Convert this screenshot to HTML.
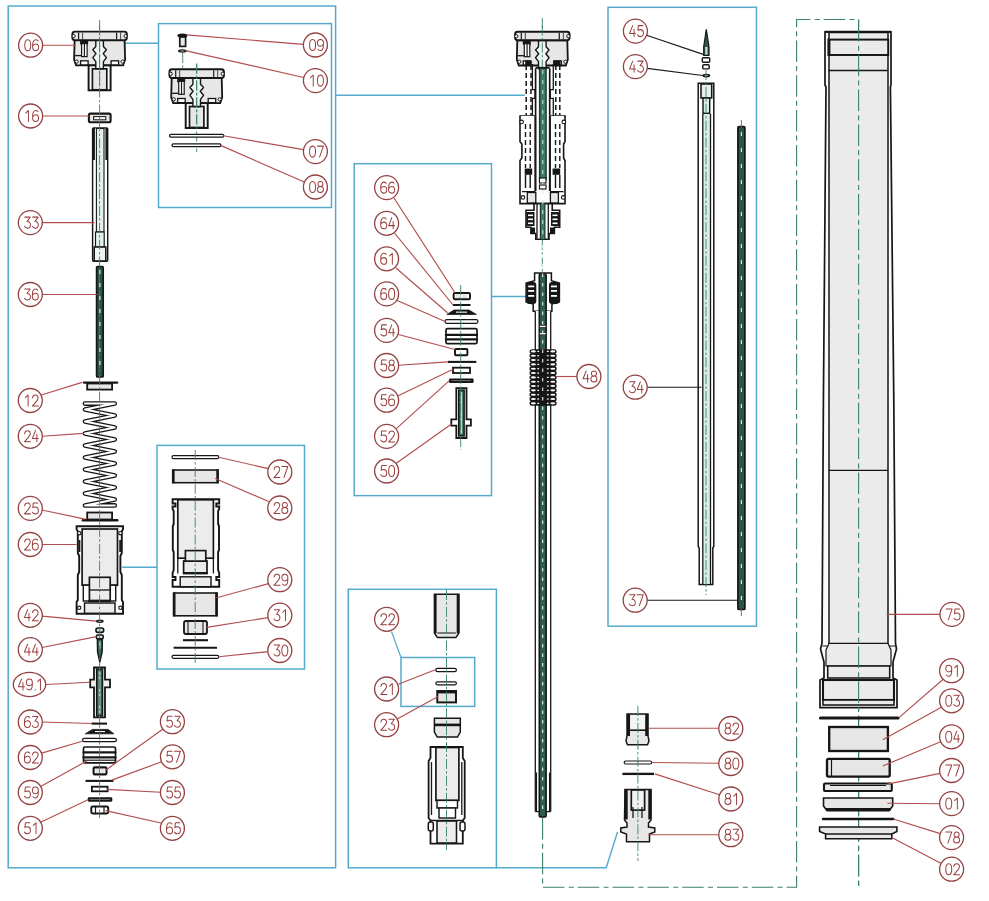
<!DOCTYPE html>
<html><head><meta charset="utf-8"><style>
html,body{margin:0;padding:0;background:#fff;width:989px;height:901px;overflow:hidden}
svg{display:block}
text{font-family:"Liberation Sans",sans-serif}
</style></head><body>
<svg width="989" height="901" viewBox="0 0 989 901">
<rect width="989" height="901" fill="#fff"/>
<rect x="8.2" y="6.0" width="327.4" height="861.8" stroke="#55aacb" stroke-width="1.5" fill="none"/>
<rect x="158.5" y="23.6" width="173.0" height="183.9" stroke="#55aacb" stroke-width="1.5" fill="none"/>
<rect x="157.0" y="445.4" width="147.5" height="223.6" stroke="#55aacb" stroke-width="1.5" fill="none"/>
<rect x="354.2" y="163.7" width="137.3" height="331.9" stroke="#55aacb" stroke-width="1.5" fill="none"/>
<rect x="348.3" y="589.3" width="148.1" height="278.5" stroke="#55aacb" stroke-width="1.5" fill="none"/>
<rect x="401.0" y="657.5" width="73.7" height="48.9" stroke="#55aacb" stroke-width="1.5" fill="none"/>
<rect x="608.0" y="7.3" width="148.5" height="618.9" stroke="#55aacb" stroke-width="1.5" fill="none"/>
<line x1="118" y1="43.3" x2="158.5" y2="43.3" stroke="#55aacb" stroke-width="1.4" />
<line x1="335.6" y1="95.3" x2="525" y2="95.3" stroke="#55aacb" stroke-width="1.4" />
<line x1="122" y1="567.2" x2="157" y2="567.2" stroke="#55aacb" stroke-width="1.4" />
<line x1="491.5" y1="296.5" x2="528.5" y2="296.5" stroke="#55aacb" stroke-width="1.4" />
<line x1="391.5" y1="631.5" x2="401" y2="657.5" stroke="#55aacb" stroke-width="1.2" />
<path d="M496.4,867.8 L606.2,867.8 L617.5,832" stroke="#55aacb" stroke-width="1.4" fill="none"/>
<path d="M542.6,818 L542.6,887.2 L796.6,887.2 L796.6,19.5 L858.6,19.5 L858.6,887.5" stroke="#3a8165" stroke-width="1.1" fill="none" stroke-dasharray="21.5,4.3,5,4"/>
<path d="M74.6,40.2 L124.6,40.2 L125.1,59.6 L123.1,65.4 L76.1,65.4 L74.1,59.6 Z" stroke="#161616" stroke-width="1.82" fill="#e7e7e7"/>
<rect x="72.39999999999999" y="31.6" width="54.4" height="8.6" rx="2.5" stroke="#161616" stroke-width="1.95" fill="#e7e7e7"/>
<line x1="78.6" y1="32.6" x2="78.6" y2="39.6" stroke="#161616" stroke-width="1.17" />
<line x1="82.6" y1="32.6" x2="82.6" y2="39.6" stroke="#161616" stroke-width="0.78" />
<line x1="116.6" y1="32.6" x2="116.6" y2="39.6" stroke="#161616" stroke-width="1.17" />
<line x1="120.6" y1="32.6" x2="120.6" y2="39.6" stroke="#161616" stroke-width="0.78" />
<circle cx="73.6" cy="36.1" r="1.6" fill="#fff" stroke="#161616" stroke-width="1"/>
<circle cx="125.6" cy="36.1" r="1.6" fill="#fff" stroke="#161616" stroke-width="1"/>
<circle cx="76.6" cy="61.6" r="1.6" fill="#fff" stroke="#161616" stroke-width="1"/>
<circle cx="122.6" cy="61.6" r="1.6" fill="#fff" stroke="#161616" stroke-width="1"/>
<rect x="80.6" y="60.8" width="7.5" height="4.1" rx="0" stroke="#161616" stroke-width="1.3" fill="#fff"/>
<rect x="111.1" y="60.8" width="7.5" height="4.1" rx="0" stroke="#161616" stroke-width="1.3" fill="#fff"/>
<rect x="80.1" y="40.6" width="8" height="4" fill="#161616"/>
<rect x="81.6" y="43.6" width="5.5" height="13" fill="#fff" stroke="#161616" stroke-width="1.2"/>
<line x1="84.39999999999999" y1="43.6" x2="84.39999999999999" y2="56.6" stroke="#161616" stroke-width="1.17" />
<line x1="75.1" y1="55.6" x2="81.6" y2="55.6" stroke="#161616" stroke-width="1.3" />
<rect x="88.6" y="65.4" width="22.0" height="24.9" rx="0" stroke="#161616" stroke-width="1.95" fill="#fff"/>
<rect x="92.39999999999999" y="68.80000000000001" width="14.4" height="21.0" rx="0" stroke="#161616" stroke-width="1.69" fill="#e7e7e7"/>
<path d="M95.8,40.6 L95.8,46.6 L92.8,49.8 L96.0,53.6 L92.8,57.6 L95.8,61.6 L95.8,68.8 L103.4,68.8 L103.4,61.6 L106.4,57.6 L103.2,53.6 L106.4,49.8 L103.4,46.6 L103.4,40.6 Z" stroke="#161616" stroke-width="1.4" fill="#eef6f2" stroke-linejoin="round"/>
<line x1="99.6" y1="25.6" x2="99.6" y2="89.6" stroke="#3a8165" stroke-width="0.9" stroke-dasharray="10,2.2,2.5,2.2"/>
<rect x="88.9" y="113.6" width="21.7" height="8.7" rx="1.5" stroke="#161616" stroke-width="2.08" fill="#e7e7e7"/>
<rect x="93.6" y="116.6" width="12.2" height="3.2" rx="0" stroke="#161616" stroke-width="1.04" fill="#fff"/>
<rect x="92.6" y="127.9" width="15.1" height="133.4" rx="1" stroke="#161616" stroke-width="1.43" fill="#fff"/>
<rect x="96.4" y="128.5" width="7.6" height="103.5" rx="0" stroke="#161616" stroke-width="1.1" fill="#e2f2ea"/>
<rect x="92.6" y="128" width="2.3" height="32" fill="#161616"/>
<rect x="105.4" y="128" width="2.3" height="32" fill="#161616"/>
<rect x="95.5" y="232" width="8.7" height="15" rx="0" stroke="#161616" stroke-width="1.17" fill="#e2f2ea"/>
<rect x="94.2" y="247" width="11.6" height="14" rx="0" stroke="#161616" stroke-width="1.56" fill="#eef5f1"/>
<rect x="96.6" y="266.5" width="6.6" height="110.5" rx="1" stroke="#161616" stroke-width="1.69" fill="#2a5542"/>
<rect x="87.2" y="383.5" width="24.9" height="6.1" rx="0" stroke="#161616" stroke-width="1.82" fill="#e7e7e7"/>
<path d="M83.8,382.6 L117.3,382.6" stroke="#161616" stroke-width="2.2" stroke-linecap="round"/>
<path d="M84.9,403.6 L114.8,403.6 L84.9,409.4 L114.8,415.4 L84.9,421.4 L114.8,427.4 L84.9,433.4 L114.8,439.4 L84.9,445.4 L114.8,451.4 L84.9,457.4 L114.8,463.4 L84.9,469.4 L114.8,475.4 L84.9,481.4 L114.8,487.4 L84.9,493.4 L114.8,499.4 L84.9,505.4 L114.8,505.4" stroke="#161616" stroke-width="4.6" fill="none" stroke-linejoin="round" stroke-linecap="round"/>
<path d="M84.9,403.6 L114.8,403.6 L84.9,409.4 L114.8,415.4 L84.9,421.4 L114.8,427.4 L84.9,433.4 L114.8,439.4 L84.9,445.4 L114.8,451.4 L84.9,457.4 L114.8,463.4 L84.9,469.4 L114.8,475.4 L84.9,481.4 L114.8,487.4 L84.9,493.4 L114.8,499.4 L84.9,505.4 L114.8,505.4" stroke="#fff" stroke-width="2.0" fill="none" stroke-linejoin="round" stroke-linecap="round"/>
<rect x="87.2" y="512.5" width="24.9" height="7.0" rx="0" stroke="#161616" stroke-width="1.82" fill="#e7e7e7"/>
<path d="M82.9,520.2 L117.3,520.2" stroke="#161616" stroke-width="2.4" stroke-linecap="round"/>
<path d="M76.6,526.2 L76.6,529.5 L77.8,531.0 L77.8,553.0 L79.2,556.0 L79.2,572.0 L77.8,575.0 L77.8,600.0 L76.6,602.0 L76.6,613.7 L123.0,613.7 L123.0,602.0 L121.8,600.0 L121.8,575.0 L120.4,572.0 L120.4,556.0 L121.8,553.0 L121.8,531.0 L123.0,529.5 L123.0,526.2 Z" stroke="#161616" stroke-width="1.9" fill="#fff"/>
<rect x="82.1" y="529" width="35.4" height="56.2" rx="0" stroke="#161616" stroke-width="1.69" fill="#ececec"/>
<rect x="83.3" y="585.2" width="32.4" height="15.8" rx="0" stroke="#161616" stroke-width="1.43" fill="#fff"/>
<rect x="89.4" y="577.3" width="20.8" height="23.2" rx="0" stroke="#161616" stroke-width="1.69" fill="#ececec"/>
<line x1="89.4" y1="590" x2="110.2" y2="590" stroke="#161616" stroke-width="1.3" />
<rect x="88" y="600" width="23" height="2.2" fill="#161616"/>
<rect x="84.5" y="603" width="30.5" height="10.3" rx="0" stroke="#161616" stroke-width="1.43" fill="#ececec"/>
<line x1="79.5" y1="540" x2="79.5" y2="552" stroke="#161616" stroke-width="1.69" />
<line x1="120.1" y1="540" x2="120.1" y2="552" stroke="#161616" stroke-width="1.69" />
<circle cx="79.2" cy="533.2" r="1.7" fill="#fff" stroke="#161616" stroke-width="1.1"/>
<circle cx="120.4" cy="533.2" r="1.7" fill="#fff" stroke="#161616" stroke-width="1.1"/>
<circle cx="79.2" cy="607.8" r="1.7" fill="#fff" stroke="#161616" stroke-width="1.1"/>
<circle cx="120.4" cy="607.8" r="1.7" fill="#fff" stroke="#161616" stroke-width="1.1"/>
<ellipse cx="99.8" cy="621.2" rx="3.9" ry="1.7" fill="#161616"/>
<ellipse cx="99.8" cy="621.2" rx="1.8" ry="0.5" fill="#9fcfb8"/>
<rect x="96" y="628" width="7.6" height="4.4" rx="1.8" stroke="#161616" stroke-width="1.69" fill="#cfe6da"/>
<rect x="96.4" y="635" width="6.8" height="3.8" rx="1" stroke="#161616" stroke-width="1.56" fill="#cfe6da"/>
<path d="M97.3,639 L102.4,639 L102.2,652 L99.8,662.4 L97.5,652 Z" stroke="#161616" stroke-width="1.3" fill="#2f5e49"/>
<rect x="99.1" y="641" width="1.4" height="8" fill="#cfe6da"/>
<path d="M94,667.5 L105,667.5 L105,679.6 L110,679.6 L110,687.3 L105,687.3 L105,717.3 L94,717.3 L94,687.3 L90.2,687.3 L90.2,679.6 L94,679.6 Z" stroke="#161616" stroke-width="1.8" fill="#f0f0f0"/>
<rect x="96.6" y="669" width="6" height="47" fill="#2f5e49" stroke="#161616" stroke-width="1.3"/>
<rect x="98.7" y="671" width="1.8" height="43" fill="#bfe0cf"/>
<line x1="91.6" y1="723.6" x2="107" y2="723.6" stroke="#161616" stroke-width="2.08" />
<path d="M92.5,729.4 L108.2,729.4 L113.8,733.8 L85.3,733.8 Z" fill="#161616" stroke="#161616" stroke-width="0.8"/>
<rect x="95" y="731" width="10" height="1.1" fill="#fff"/>
<rect x="82.6" y="738.3" width="33.8" height="3.4" rx="1.7" stroke="#161616" stroke-width="1.23" fill="#fff"/>
<rect x="83.5" y="747" width="32.0" height="15.8" rx="1.5" stroke="#161616" stroke-width="1.69" fill="#fff"/>
<rect x="82.4" y="751.2" width="34.2" height="2.2" rx="1.1" fill="#161616"/>
<rect x="82.4" y="756.3" width="34.2" height="2.2" rx="1.1" fill="#161616"/>
<line x1="84" y1="760.2" x2="115" y2="760.2" stroke="#161616" stroke-width="1.17" />
<rect x="93.6" y="767.4" width="12.9" height="7.0" rx="1.2" stroke="#161616" stroke-width="2.08" fill="#fff"/>
<rect x="95.6" y="769" width="3.6" height="3.8" fill="#e3e3e3"/>
<rect x="100.8" y="769" width="3.6" height="3.8" fill="#e3e3e3"/>
<line x1="85.5" y1="780.9" x2="113.5" y2="780.9" stroke="#161616" stroke-width="2.08" />
<rect x="91.9" y="786.7" width="15.7" height="4.6" rx="0" stroke="#161616" stroke-width="1.82" fill="#fff"/>
<rect x="87.8" y="797.2" width="24.5" height="4.6" rx="1.2" fill="#161616"/>
<rect x="90" y="799.1" width="20" height="0.9" fill="#777"/>
<rect x="91.3" y="806.5" width="16.9" height="7.0" rx="1.5" stroke="#161616" stroke-width="1.95" fill="#fff"/>
<line x1="95.5" y1="806.5" x2="95.5" y2="813.7" stroke="#161616" stroke-width="1.17" />
<line x1="104" y1="806.5" x2="104" y2="813.7" stroke="#161616" stroke-width="1.17" />
<line x1="99.6" y1="20" x2="99.6" y2="818" stroke="#3a8165" stroke-width="0.9" stroke-dasharray="10,2.2,2.5,2.2"/>
<line x1="99.9" y1="270" x2="99.9" y2="374" stroke="#e6f4ec" stroke-width="1.1" stroke-dasharray="4,9"/>
<ellipse cx="182.4" cy="35.6" rx="5" ry="2.2" fill="#161616"/>
<rect x="179.8" y="37" width="5.8" height="9.4" rx="0" stroke="#161616" stroke-width="1.69" fill="#e3ebe6"/>
<ellipse cx="182.4" cy="51" rx="4.4" ry="1.7" fill="#161616"/>
<ellipse cx="182.4" cy="51" rx="2.2" ry="0.6" fill="#9fcfb8"/>
<line x1="182.7" y1="53" x2="182.7" y2="79" stroke="#3a8165" stroke-width="0.9" stroke-dasharray="10,2.2,2.5,2.2"/>
<path d="M171.7,77.89999999999999 L221.7,77.89999999999999 L222.2,97.3 L220.2,103.1 L173.2,103.1 L171.2,97.3 Z" stroke="#161616" stroke-width="1.82" fill="#e7e7e7"/>
<rect x="169.5" y="69.3" width="54.4" height="8.6" rx="2.5" stroke="#161616" stroke-width="1.95" fill="#e7e7e7"/>
<line x1="175.7" y1="70.3" x2="175.7" y2="77.3" stroke="#161616" stroke-width="1.17" />
<line x1="179.7" y1="70.3" x2="179.7" y2="77.3" stroke="#161616" stroke-width="0.78" />
<line x1="213.7" y1="70.3" x2="213.7" y2="77.3" stroke="#161616" stroke-width="1.17" />
<line x1="217.7" y1="70.3" x2="217.7" y2="77.3" stroke="#161616" stroke-width="0.78" />
<circle cx="170.7" cy="73.8" r="1.6" fill="#fff" stroke="#161616" stroke-width="1"/>
<circle cx="222.7" cy="73.8" r="1.6" fill="#fff" stroke="#161616" stroke-width="1"/>
<circle cx="173.7" cy="99.3" r="1.6" fill="#fff" stroke="#161616" stroke-width="1"/>
<circle cx="219.7" cy="99.3" r="1.6" fill="#fff" stroke="#161616" stroke-width="1"/>
<rect x="177.7" y="98.5" width="7.5" height="4.1" rx="0" stroke="#161616" stroke-width="1.3" fill="#fff"/>
<rect x="208.2" y="98.5" width="7.5" height="4.1" rx="0" stroke="#161616" stroke-width="1.3" fill="#fff"/>
<rect x="177.2" y="78.3" width="8" height="4" fill="#161616"/>
<rect x="178.7" y="81.3" width="5.5" height="13" fill="#fff" stroke="#161616" stroke-width="1.2"/>
<line x1="181.5" y1="81.3" x2="181.5" y2="94.3" stroke="#161616" stroke-width="1.17" />
<line x1="172.2" y1="93.3" x2="178.7" y2="93.3" stroke="#161616" stroke-width="1.3" />
<rect x="185.7" y="103.1" width="22.0" height="24.9" rx="0" stroke="#161616" stroke-width="1.95" fill="#fff"/>
<rect x="189.5" y="106.5" width="14.4" height="21.0" rx="0" stroke="#161616" stroke-width="1.69" fill="#e7e7e7"/>
<path d="M192.9,78.3 L192.9,84.3 L189.9,87.5 L193.1,91.3 L189.9,95.3 L192.9,99.3 L192.9,106.5 L200.5,106.5 L200.5,99.3 L203.5,95.3 L200.3,91.3 L203.5,87.5 L200.5,84.3 L200.5,78.3 Z" stroke="#161616" stroke-width="1.4" fill="#eef6f2" stroke-linejoin="round"/>
<line x1="196.7" y1="63.3" x2="196.7" y2="127.3" stroke="#3a8165" stroke-width="0.9" stroke-dasharray="10,2.2,2.5,2.2"/>
<line x1="196.7" y1="64" x2="196.7" y2="152" stroke="#3a8165" stroke-width="0.9" stroke-dasharray="10,2.2,2.5,2.2"/>
<rect x="169.5" y="134.29999999999998" width="54.3" height="2.8" rx="1.4" stroke="#161616" stroke-width="1.23" fill="#fff"/>
<rect x="172" y="143.79999999999998" width="49" height="2.8" rx="1.4" stroke="#161616" stroke-width="1.23" fill="#fff"/>
<rect x="172" y="455.7" width="46.8" height="3.0" rx="1.5" stroke="#161616" stroke-width="1.23" fill="#fff"/>
<rect x="172.7" y="470" width="45.3" height="12.7" rx="0" stroke="#161616" stroke-width="1.56" fill="#e7e7e7"/>
<rect x="172" y="469.5" width="2.6" height="13.7" fill="#161616"/>
<rect x="216.3" y="469.5" width="2.4" height="13.7" fill="#161616"/>
<path d="M172.6,499.3 L172.6,503.5 L175.5,503.5 L175.5,506.5 L172.6,506.5 L172.6,509.0 L173.7,511.0 L173.7,524.0 L172.8,526.0 L172.8,550.0 L173.7,552.0 L173.7,570.0 L172.6,573.0 L172.6,577.0 L175.5,577.0 L175.5,580.0 L172.6,580.0 L172.6,586.7 L219.2,586.7 L219.2,580.0 L216.3,580.0 L216.3,577.0 L219.2,577.0 L219.2,573.0 L218.1,570.0 L218.1,552.0 L219.0,550.0 L219.0,526.0 L218.1,524.0 L218.1,511.0 L219.2,509.0 L219.2,506.5 L216.3,506.5 L216.3,503.5 L219.2,503.5 L219.2,499.3 Z" stroke="#161616" stroke-width="1.9" fill="#fff" stroke-linejoin="miter"/>
<rect x="177.8" y="499.8" width="35.6" height="58.4" rx="0" stroke="#161616" stroke-width="1.69" fill="#ececec"/>
<rect x="183.6" y="561" width="23.4" height="12.3" rx="0" stroke="#161616" stroke-width="1.69" fill="#ececec"/>
<rect x="185.4" y="550.6" width="20.4" height="10.5" rx="0" stroke="#161616" stroke-width="1.69" fill="#ececec"/>
<line x1="177.8" y1="558.2" x2="177.8" y2="573.5" stroke="#161616" stroke-width="1.3" />
<line x1="213.4" y1="558.2" x2="213.4" y2="573.5" stroke="#161616" stroke-width="1.3" />
<rect x="183" y="572" width="24.5" height="2.3" fill="#161616"/>
<rect x="180.2" y="576.8" width="30.8" height="9.9" rx="0" stroke="#161616" stroke-width="1.43" fill="#ececec"/>
<rect x="173.6" y="593" width="43.4" height="22.8" rx="0" stroke="#161616" stroke-width="1.56" fill="#e7e7e7"/>
<rect x="172.9" y="592.5" width="2.6" height="23.8" fill="#161616"/>
<rect x="215.2" y="592.5" width="2.5" height="23.8" fill="#161616"/>
<rect x="184" y="621" width="23" height="13" rx="2" stroke="#161616" stroke-width="1.82" fill="#e7e7e7"/>
<line x1="188" y1="621" x2="188" y2="634" stroke="#161616" stroke-width="1.04" />
<line x1="203" y1="621" x2="203" y2="634" stroke="#161616" stroke-width="1.04" />
<line x1="183" y1="640.2" x2="208" y2="640.2" stroke="#161616" stroke-width="2.08" />
<line x1="173.6" y1="647.7" x2="217" y2="647.7" stroke="#161616" stroke-width="2.08" />
<rect x="172" y="655.3" width="46.8" height="3.0" rx="1.5" stroke="#161616" stroke-width="1.23" fill="#fff"/>
<line x1="195.2" y1="450" x2="195.2" y2="665" stroke="#3a8165" stroke-width="0.9" stroke-dasharray="10,2.2,2.5,2.2"/>
<path d="M517.3,40.3 L567.3,40.3 L567.8,59.7 L565.8,65.5 L518.8,65.5 L516.8,59.7 Z" stroke="#161616" stroke-width="1.82" fill="#e7e7e7"/>
<rect x="515.0999999999999" y="31.7" width="54.4" height="8.6" rx="2.5" stroke="#161616" stroke-width="1.95" fill="#e7e7e7"/>
<line x1="521.3" y1="32.7" x2="521.3" y2="39.7" stroke="#161616" stroke-width="1.17" />
<line x1="525.3" y1="32.7" x2="525.3" y2="39.7" stroke="#161616" stroke-width="0.78" />
<line x1="559.3" y1="32.7" x2="559.3" y2="39.7" stroke="#161616" stroke-width="1.17" />
<line x1="563.3" y1="32.7" x2="563.3" y2="39.7" stroke="#161616" stroke-width="0.78" />
<circle cx="516.3" cy="36.2" r="1.6" fill="#fff" stroke="#161616" stroke-width="1"/>
<circle cx="568.3" cy="36.2" r="1.6" fill="#fff" stroke="#161616" stroke-width="1"/>
<circle cx="519.3" cy="61.7" r="1.6" fill="#fff" stroke="#161616" stroke-width="1"/>
<circle cx="565.3" cy="61.7" r="1.6" fill="#fff" stroke="#161616" stroke-width="1"/>
<rect x="523.3" y="60.9" width="7.5" height="4.1" rx="0" stroke="#161616" stroke-width="1.3" fill="#fff"/>
<rect x="553.8" y="60.9" width="7.5" height="4.1" rx="0" stroke="#161616" stroke-width="1.3" fill="#fff"/>
<rect x="522.8" y="40.7" width="8" height="4" fill="#161616"/>
<rect x="524.3" y="43.7" width="5.5" height="13" fill="#fff" stroke="#161616" stroke-width="1.2"/>
<line x1="527.0999999999999" y1="43.7" x2="527.0999999999999" y2="56.7" stroke="#161616" stroke-width="1.17" />
<line x1="517.8" y1="55.7" x2="524.3" y2="55.7" stroke="#161616" stroke-width="1.3" />
<path d="M538.5,40.7 L538.5,46.7 L535.5,49.9 L538.7,53.7 L535.5,57.7 L538.5,61.7 L538.5,68.9 L546.1,68.9 L546.1,61.7 L549.1,57.7 L545.9,53.7 L549.1,49.9 L546.1,46.7 L546.1,40.7 Z" stroke="#161616" stroke-width="1.4" fill="#eef6f2" stroke-linejoin="round"/>
<line x1="542.3" y1="25.7" x2="542.3" y2="89.7" stroke="#3a8165" stroke-width="0.9" stroke-dasharray="10,2.2,2.5,2.2"/>
<line x1="526.2" y1="65" x2="526.2" y2="115" stroke="#161616" stroke-width="1.5" stroke-dasharray="5,3"/>
<line x1="531.0" y1="65" x2="531.0" y2="115" stroke="#161616" stroke-width="1.5" stroke-dasharray="5,3"/>
<line x1="555.8" y1="65" x2="555.8" y2="115" stroke="#161616" stroke-width="1.5" stroke-dasharray="5,3"/>
<line x1="559.8" y1="65" x2="559.8" y2="115" stroke="#161616" stroke-width="1.5" stroke-dasharray="5,3"/>
<rect x="525.2" y="60.5" width="6.4" height="4.5" fill="#161616"/>
<rect x="553.3" y="60.5" width="7.2" height="4.5" fill="#161616"/>
<path d="M532.4,64 L532.4,89.6 L534.9,89.6 L534.9,98.3 L532.4,98.3 L532.4,116" stroke="#161616" stroke-width="1.3" fill="none"/>
<path d="M553.3,64 L553.3,89.6 L550.3,89.6 L550.3,98.3 L553.3,98.3 L553.3,116" stroke="#161616" stroke-width="1.3" fill="none"/>
<path d="M519.4,116.1 L535.6,116.1 M550.8,116.1 L565.9,116.1" stroke="#161616" stroke-width="1.5"/>
<path d="M520,116.1 L520,141.7 L521.9,144 L521.9,158 L520,160.5 L520,203.6 L565,203.6 L565,160.5 L563.6,158 L563.6,144 L565,141.7 L565,116.1" stroke="#161616" stroke-width="1.6" fill="#fff"/>
<circle cx="521.6" cy="121.9" r="1.8" fill="#fff" stroke="#161616" stroke-width="1.1"/>
<circle cx="563.8" cy="121.9" r="1.8" fill="#fff" stroke="#161616" stroke-width="1.1"/>
<circle cx="522.9" cy="197.4" r="1.8" fill="#fff" stroke="#161616" stroke-width="1.1"/>
<circle cx="563.3" cy="197.4" r="1.8" fill="#fff" stroke="#161616" stroke-width="1.1"/>
<line x1="525.5" y1="124" x2="525.5" y2="168" stroke="#161616" stroke-width="1.4" stroke-dasharray="5,3"/>
<line x1="530.2" y1="124" x2="530.2" y2="168" stroke="#161616" stroke-width="1.4" stroke-dasharray="5,3"/>
<line x1="555.5" y1="124" x2="555.5" y2="168" stroke="#161616" stroke-width="1.4" stroke-dasharray="5,3"/>
<line x1="559.8" y1="124" x2="559.8" y2="168" stroke="#161616" stroke-width="1.4" stroke-dasharray="5,3"/>
<rect x="524.7" y="168.5" width="7.5" height="6.3" fill="#161616"/>
<rect x="552.6" y="168.5" width="7.6" height="6.3" fill="#161616"/>
<line x1="525.5" y1="175" x2="525.5" y2="188" stroke="#161616" stroke-width="1.43" />
<line x1="530.2" y1="175" x2="530.2" y2="188" stroke="#161616" stroke-width="1.43" />
<line x1="555.5" y1="175" x2="555.5" y2="188" stroke="#161616" stroke-width="1.43" />
<line x1="559.8" y1="175" x2="559.8" y2="188" stroke="#161616" stroke-width="1.43" />
<path d="M522,191.6 L535.5,191.6 M550,191.6 L563.5,191.6" stroke="#161616" stroke-width="1.3"/>
<rect x="527.3" y="192.5" width="8.5" height="10.5" rx="0" stroke="#161616" stroke-width="1.3" fill="#e7e7e7"/>
<rect x="550.4" y="192.5" width="8.0" height="10.5" rx="0" stroke="#161616" stroke-width="1.3" fill="#e7e7e7"/>
<line x1="535.3" y1="116" x2="535.3" y2="191" stroke="#161616" stroke-width="1.69" />
<line x1="550.0" y1="116" x2="550.0" y2="191" stroke="#161616" stroke-width="1.69" />
<line x1="535.6" y1="68.3" x2="535.6" y2="191" stroke="#161616" stroke-width="1.69" />
<line x1="549.7" y1="68.3" x2="549.7" y2="191" stroke="#161616" stroke-width="1.69" />
<rect x="538.9" y="68.3" width="7.9" height="112" fill="#1d3b2d"/>
<rect x="540.4" y="68.3" width="5" height="112" fill="#3f7a62"/>
<rect x="539.5" y="178" width="6.5" height="5" rx="0" stroke="#161616" stroke-width="1.17" fill="#fff"/>
<rect x="539.5" y="185" width="6.5" height="4" rx="0" stroke="#161616" stroke-width="1.17" fill="#fff"/>
<line x1="535.6" y1="67.8" x2="549.7" y2="67.8" stroke="#161616" stroke-width="1.82" />
<path d="M534,203.6 L552.2,203.6 L552.2,210.3 L559.7,210.3 L559.7,227.2 L554.4,227.2 L554.4,233.5 L549,233.5 L549,239.2 L535.8,239.2 L535.8,233.5 L530.9,233.5 L530.9,227.2 L526,227.2 L526,210.3 L534,210.3 Z" stroke="#161616" stroke-width="1.6" fill="#fff"/>
<rect x="526.5" y="212" width="8" height="14" fill="#161616"/>
<rect x="551" y="212" width="8" height="14" fill="#161616"/>
<rect x="528" y="214.5" width="5" height="1.6" fill="#fff"/>
<rect x="552.5" y="214.5" width="5" height="1.6" fill="#fff"/>
<rect x="528" y="218.5" width="5" height="1.6" fill="#fff"/>
<rect x="552.5" y="218.5" width="5" height="1.6" fill="#fff"/>
<rect x="528" y="222.5" width="5" height="1.6" fill="#fff"/>
<rect x="552.5" y="222.5" width="5" height="1.6" fill="#fff"/>
<rect x="531" y="227.5" width="4" height="5.5" fill="#161616"/>
<rect x="550" y="227.5" width="4" height="5.5" fill="#161616"/>
<rect x="539.8" y="203.6" width="5.7" height="35.6" fill="#1d3b2d"/>
<rect x="541" y="203.6" width="3.3" height="35.6" fill="#3f7a62"/>
<line x1="537" y1="204" x2="537" y2="238.5" stroke="#161616" stroke-width="1.3" />
<line x1="548.3" y1="204" x2="548.3" y2="238.5" stroke="#161616" stroke-width="1.3" />
<line x1="542.3" y1="18" x2="542.3" y2="31" stroke="#3a8165" stroke-width="0.9" stroke-dasharray="10,2.2,2.5,2.2"/>
<line x1="542.3" y1="240" x2="542.3" y2="272" stroke="#3a8165" stroke-width="0.9" stroke-dasharray="10,2.2,2.5,2.2"/>
<line x1="542.8" y1="70" x2="542.8" y2="238" stroke="#cfe8dc" stroke-width="1" stroke-dasharray="4,6"/>
<rect x="453.7" y="293" width="16.3" height="6.2" rx="1.2" stroke="#161616" stroke-width="1.95" fill="#fff"/>
<rect x="456" y="294.5" width="5" height="3.3" fill="#e3e3e3"/>
<rect x="462.5" y="294.5" width="5" height="3.3" fill="#e3e3e3"/>
<line x1="453" y1="305" x2="470.5" y2="305" stroke="#161616" stroke-width="1.95" />
<path d="M454,310 L469,310 L476.3,314.4 L446.9,314.4 Z" fill="#161616" stroke="#161616" stroke-width="0.8"/>
<rect x="456" y="311.6" width="11" height="1.1" fill="#fff"/>
<rect x="445" y="319.7" width="33" height="3.6" rx="1.8" stroke="#161616" stroke-width="1.23" fill="#fff"/>
<rect x="446" y="328.6" width="31" height="15.1" rx="1.5" stroke="#161616" stroke-width="1.69" fill="#fff"/>
<rect x="444.8" y="333.8" width="33.4" height="2.2" rx="1.1" fill="#161616"/>
<rect x="444.8" y="338.3" width="33.4" height="2.2" rx="1.1" fill="#161616"/>
<rect x="455" y="349" width="12.4" height="6.3" rx="1" stroke="#161616" stroke-width="1.95" fill="#fff"/>
<line x1="447.8" y1="361.9" x2="476.3" y2="361.9" stroke="#161616" stroke-width="2.08" />
<rect x="453" y="367.7" width="17" height="5.3" rx="0" stroke="#161616" stroke-width="1.82" fill="#fff"/>
<rect x="449" y="378.4" width="24.6" height="4.5" rx="1.2" fill="#161616"/>
<rect x="451.5" y="380.2" width="19.5" height="0.9" fill="#777"/>
<path d="M456.3,388.2 L466.5,388.2 L466.5,419.3 L470.9,419.3 L470.9,425.6 L466.5,425.6 L466.5,438 L456.3,438 L456.3,425.6 L451.3,425.6 L451.3,419.3 L456.3,419.3 Z" stroke="#161616" stroke-width="1.8" fill="#fff"/>
<rect x="458.6" y="390" width="5.6" height="46" fill="#2f5e49" stroke="#161616" stroke-width="1.3"/>
<rect x="460.5" y="392" width="1.8" height="42" fill="#bfe0cf"/>
<line x1="460.7" y1="285" x2="460.7" y2="450" stroke="#3a8165" stroke-width="0.9" stroke-dasharray="10,2.2,2.5,2.2"/>
<path d="M534.6,273 L551.4,273 L551.4,280.6 L559.4,283 L559.4,302 L551.9,304.1 L551.9,311.2 L533.2,311.2 L533.2,304.1 L526.1,302 L526.1,283 L534.6,280.6 Z" stroke="#161616" stroke-width="1.5" fill="#fff"/>
<rect x="535.3" y="311" width="15.4" height="500.6" fill="#fff"/>
<path d="M535.3,811.6 L550.7,811.6" stroke="#161616" stroke-width="1.3"/>
<rect x="526.3" y="282" width="10" height="22" rx="3" fill="#161616"/>
<rect x="549" y="282" width="10.2" height="22" rx="3" fill="#161616"/>
<rect x="528.2" y="285.5" width="6" height="1.8" fill="#fff"/>
<rect x="551" y="285.5" width="6" height="1.8" fill="#fff"/>
<rect x="528.2" y="290" width="6" height="1.8" fill="#fff"/>
<rect x="551" y="290" width="6" height="1.8" fill="#fff"/>
<rect x="528.2" y="295" width="6" height="1.8" fill="#fff"/>
<rect x="551" y="295" width="6" height="1.8" fill="#fff"/>
<rect x="539.3" y="274" width="6.8" height="543" rx="1" fill="#2f5e49" stroke="#161616" stroke-width="1.6"/>
<rect x="539.5" y="325.4" width="6.5" height="2.0" rx="0" stroke="#161616" stroke-width="0.65" fill="#fff"/>
<rect x="539.5" y="332.6" width="6.5" height="2.2" rx="0" stroke="#161616" stroke-width="0.65" fill="#fff"/>
<path d="M535.3,311.2 L535.3,811.6 M550.7,311.2 L550.7,811.6" stroke="#161616" stroke-width="1.3"/>
<path d="M536.4,772.5 L536.4,811 M549.6,772.5 L549.6,811" stroke="#161616" stroke-width="1.3"/>
<rect x="529.6" y="349.2" width="27" height="56.5" rx="2.5" fill="#161616"/>
<ellipse cx="533.4" cy="351.40" rx="2.5" ry="1.05" fill="#fff"/>
<ellipse cx="552.8" cy="351.40" rx="2.5" ry="1.05" fill="#fff"/>
<rect x="537.3" y="350.80" width="1.8" height="1.2" fill="#fff"/>
<rect x="546.9" y="350.80" width="1.8" height="1.2" fill="#fff"/>
<path d="M529,352.60 L531,353.57 L529,354.50 Z" fill="#fff"/>
<path d="M557.2,352.60 L555.2,353.57 L557.2,354.50 Z" fill="#fff"/>
<ellipse cx="533.4" cy="355.73" rx="2.5" ry="1.05" fill="#fff"/>
<ellipse cx="552.8" cy="355.73" rx="2.5" ry="1.05" fill="#fff"/>
<rect x="537.3" y="355.13" width="1.8" height="1.2" fill="#fff"/>
<rect x="546.9" y="355.13" width="1.8" height="1.2" fill="#fff"/>
<path d="M529,356.93 L531,357.90 L529,358.83 Z" fill="#fff"/>
<path d="M557.2,356.93 L555.2,357.90 L557.2,358.83 Z" fill="#fff"/>
<ellipse cx="533.4" cy="360.06" rx="2.5" ry="1.05" fill="#fff"/>
<ellipse cx="552.8" cy="360.06" rx="2.5" ry="1.05" fill="#fff"/>
<rect x="537.3" y="359.46" width="1.8" height="1.2" fill="#fff"/>
<rect x="546.9" y="359.46" width="1.8" height="1.2" fill="#fff"/>
<path d="M529,361.26 L531,362.23 L529,363.16 Z" fill="#fff"/>
<path d="M557.2,361.26 L555.2,362.23 L557.2,363.16 Z" fill="#fff"/>
<ellipse cx="533.4" cy="364.39" rx="2.5" ry="1.05" fill="#fff"/>
<ellipse cx="552.8" cy="364.39" rx="2.5" ry="1.05" fill="#fff"/>
<rect x="537.3" y="363.79" width="1.8" height="1.2" fill="#fff"/>
<rect x="546.9" y="363.79" width="1.8" height="1.2" fill="#fff"/>
<path d="M529,365.59 L531,366.56 L529,367.49 Z" fill="#fff"/>
<path d="M557.2,365.59 L555.2,366.56 L557.2,367.49 Z" fill="#fff"/>
<ellipse cx="533.4" cy="368.72" rx="2.5" ry="1.05" fill="#fff"/>
<ellipse cx="552.8" cy="368.72" rx="2.5" ry="1.05" fill="#fff"/>
<rect x="537.3" y="368.12" width="1.8" height="1.2" fill="#fff"/>
<rect x="546.9" y="368.12" width="1.8" height="1.2" fill="#fff"/>
<path d="M529,369.92 L531,370.89 L529,371.82 Z" fill="#fff"/>
<path d="M557.2,369.92 L555.2,370.89 L557.2,371.82 Z" fill="#fff"/>
<ellipse cx="533.4" cy="373.05" rx="2.5" ry="1.05" fill="#fff"/>
<ellipse cx="552.8" cy="373.05" rx="2.5" ry="1.05" fill="#fff"/>
<rect x="537.3" y="372.45" width="1.8" height="1.2" fill="#fff"/>
<rect x="546.9" y="372.45" width="1.8" height="1.2" fill="#fff"/>
<path d="M529,374.25 L531,375.22 L529,376.15 Z" fill="#fff"/>
<path d="M557.2,374.25 L555.2,375.22 L557.2,376.15 Z" fill="#fff"/>
<ellipse cx="533.4" cy="377.38" rx="2.5" ry="1.05" fill="#fff"/>
<ellipse cx="552.8" cy="377.38" rx="2.5" ry="1.05" fill="#fff"/>
<rect x="537.3" y="376.78" width="1.8" height="1.2" fill="#fff"/>
<rect x="546.9" y="376.78" width="1.8" height="1.2" fill="#fff"/>
<path d="M529,378.58 L531,379.55 L529,380.48 Z" fill="#fff"/>
<path d="M557.2,378.58 L555.2,379.55 L557.2,380.48 Z" fill="#fff"/>
<ellipse cx="533.4" cy="381.71" rx="2.5" ry="1.05" fill="#fff"/>
<ellipse cx="552.8" cy="381.71" rx="2.5" ry="1.05" fill="#fff"/>
<rect x="537.3" y="381.11" width="1.8" height="1.2" fill="#fff"/>
<rect x="546.9" y="381.11" width="1.8" height="1.2" fill="#fff"/>
<path d="M529,382.91 L531,383.88 L529,384.81 Z" fill="#fff"/>
<path d="M557.2,382.91 L555.2,383.88 L557.2,384.81 Z" fill="#fff"/>
<ellipse cx="533.4" cy="386.04" rx="2.5" ry="1.05" fill="#fff"/>
<ellipse cx="552.8" cy="386.04" rx="2.5" ry="1.05" fill="#fff"/>
<rect x="537.3" y="385.44" width="1.8" height="1.2" fill="#fff"/>
<rect x="546.9" y="385.44" width="1.8" height="1.2" fill="#fff"/>
<path d="M529,387.24 L531,388.21 L529,389.14 Z" fill="#fff"/>
<path d="M557.2,387.24 L555.2,388.21 L557.2,389.14 Z" fill="#fff"/>
<ellipse cx="533.4" cy="390.37" rx="2.5" ry="1.05" fill="#fff"/>
<ellipse cx="552.8" cy="390.37" rx="2.5" ry="1.05" fill="#fff"/>
<rect x="537.3" y="389.77" width="1.8" height="1.2" fill="#fff"/>
<rect x="546.9" y="389.77" width="1.8" height="1.2" fill="#fff"/>
<path d="M529,391.57 L531,392.54 L529,393.47 Z" fill="#fff"/>
<path d="M557.2,391.57 L555.2,392.54 L557.2,393.47 Z" fill="#fff"/>
<ellipse cx="533.4" cy="394.70" rx="2.5" ry="1.05" fill="#fff"/>
<ellipse cx="552.8" cy="394.70" rx="2.5" ry="1.05" fill="#fff"/>
<rect x="537.3" y="394.10" width="1.8" height="1.2" fill="#fff"/>
<rect x="546.9" y="394.10" width="1.8" height="1.2" fill="#fff"/>
<path d="M529,395.90 L531,396.87 L529,397.80 Z" fill="#fff"/>
<path d="M557.2,395.90 L555.2,396.87 L557.2,397.80 Z" fill="#fff"/>
<ellipse cx="533.4" cy="399.03" rx="2.5" ry="1.05" fill="#fff"/>
<ellipse cx="552.8" cy="399.03" rx="2.5" ry="1.05" fill="#fff"/>
<rect x="537.3" y="398.43" width="1.8" height="1.2" fill="#fff"/>
<rect x="546.9" y="398.43" width="1.8" height="1.2" fill="#fff"/>
<path d="M529,400.23 L531,401.20 L529,402.13 Z" fill="#fff"/>
<path d="M557.2,400.23 L555.2,401.20 L557.2,402.13 Z" fill="#fff"/>
<ellipse cx="533.4" cy="403.36" rx="2.5" ry="1.05" fill="#fff"/>
<ellipse cx="552.8" cy="403.36" rx="2.5" ry="1.05" fill="#fff"/>
<rect x="537.3" y="402.76" width="1.8" height="1.2" fill="#fff"/>
<rect x="546.9" y="402.76" width="1.8" height="1.2" fill="#fff"/>
<line x1="542.7" y1="245" x2="542.7" y2="812" stroke="#e4f4ec" stroke-width="1.1" stroke-dasharray="3.5,6"/>
<path d="M434.4,594.3 L458.9,594.3 L458.9,633 L455.9,637.6 L437.4,637.6 L434.4,633 Z" stroke="#161616" stroke-width="1.5" fill="#e7e7e7"/>
<rect x="434" y="594.3" width="2.6" height="39" fill="#161616"/>
<rect x="456.7" y="594.3" width="2.6" height="39" fill="#161616"/>
<line x1="437.4" y1="633" x2="455.9" y2="633" stroke="#161616" stroke-width="1.04" />
<rect x="435.8" y="668.3" width="20.6" height="3.4" rx="1.7" stroke="#161616" stroke-width="1.23" fill="#fff"/>
<rect x="435.8" y="681.8" width="20.6" height="3.0" rx="1.5" stroke="#161616" stroke-width="1.23" fill="#fff"/>
<rect x="437.3" y="691" width="18.7" height="11.4" rx="0" stroke="#161616" stroke-width="1.95" fill="#e7e7e7"/>
<rect x="437.3" y="691" width="18.7" height="2.4" fill="#161616"/>
<path d="M434.4,718.2 L460.3,718.2 L460.3,732 L457.5,737 L437.2,737 L434.4,732 Z" stroke="#161616" stroke-width="1.5" fill="#e7e7e7"/>
<rect x="434.4" y="723.6" width="25.9" height="2.6" fill="#161616"/>
<path d="M430.5,747 L462.8,747 L462.8,758 L464.7,761 L464.7,818 L462.8,820.5 L462.8,843.6 L430.5,843.6 L430.5,820.5 L428.6,818 L428.6,761 L430.5,758 Z" stroke="#161616" stroke-width="1.8" fill="#fff"/>
<rect x="435.9" y="747.5" width="23.0" height="52.9" rx="0" stroke="#161616" stroke-width="1.69" fill="#ececec"/>
<line x1="431.5" y1="762" x2="431.5" y2="815" stroke="#161616" stroke-width="1.3" />
<line x1="461.8" y1="762" x2="461.8" y2="815" stroke="#161616" stroke-width="1.3" />
<rect x="437" y="800.4" width="20.5" height="7.6" rx="0" stroke="#161616" stroke-width="1.43" fill="#fff"/>
<rect x="439" y="808" width="16.5" height="10" rx="0" stroke="#161616" stroke-width="1.43" fill="#fff"/>
<path d="M430,820.5 L463.5,820.5" stroke="#161616" stroke-width="1.6"/>
<rect x="437" y="821" width="19.5" height="22" rx="0" stroke="#161616" stroke-width="1.56" fill="#ececec"/>
<rect x="428.3" y="822" width="5" height="9" rx="2" fill="#fff" stroke="#161616" stroke-width="1.5"/>
<rect x="460" y="822" width="5" height="9" rx="2" fill="#fff" stroke="#161616" stroke-width="1.5"/>
<line x1="446.5" y1="590" x2="446.5" y2="850" stroke="#3a8165" stroke-width="0.9" stroke-dasharray="10,2.2,2.5,2.2"/>
<path d="M627,714 L648,714 L648,736 L649,741 L647.5,744.7 L627.5,744.7 L626,741 L627,736 Z" stroke="#161616" stroke-width="1.5" fill="#e7e7e7"/>
<line x1="627" y1="730.2" x2="648" y2="730.2" stroke="#161616" stroke-width="1.56" />
<rect x="627" y="714" width="3" height="22" fill="#161616"/>
<rect x="645.2" y="714" width="3" height="22" fill="#161616"/>
<rect x="630.5" y="715.5" width="14.5" height="13.5" fill="#f4f4f4"/>
<rect x="624.2" y="761.0" width="27.5" height="3.0" rx="1.5" stroke="#161616" stroke-width="1.23" fill="#fff"/>
<line x1="622.4" y1="773.9" x2="654" y2="773.9" stroke="#161616" stroke-width="2.34" />
<path d="M625,789.4 L651,789.4 L651,820 L648.5,823 L648.5,827 L654.8,828 L654.8,832 L649.5,834 L649.5,841.8 L626.5,841.8 L626.5,834 L620.8,832 L620.8,828 L627,827 L627,823 L624.5,820 Z" stroke="#161616" stroke-width="1.5" fill="#e7e7e7"/>
<rect x="624.5" y="789.4" width="3.2" height="30" fill="#161616"/>
<rect x="648.3" y="789.4" width="3.2" height="30" fill="#161616"/>
<rect x="631.3" y="790" width="13.3" height="20.1" rx="0" stroke="#161616" stroke-width="1.69" fill="#f2f2f2"/>
<line x1="633" y1="807" x2="633" y2="818" stroke="#161616" stroke-width="1.3" />
<line x1="642" y1="807" x2="642" y2="818" stroke="#161616" stroke-width="1.3" />
<line x1="637.9" y1="706" x2="637.9" y2="861" stroke="#3a8165" stroke-width="0.9" stroke-dasharray="10,2.2,2.5,2.2"/>
<path d="M706.3,29.3 L707.6,38 L709,46.7 L709,55.5 L703.7,55.5 L703.7,46.7 L705,38 Z" stroke="#161616" stroke-width="1.2" fill="#2f5a48"/>
<rect x="705.2" y="47" width="2.3" height="7.5" fill="#bfe0cf"/>
<rect x="702.3" y="57.8" width="7.4" height="4.4" rx="1" stroke="#161616" stroke-width="1.43" fill="#fff"/>
<rect x="702.8" y="64.8" width="6.4" height="4.1" rx="1" stroke="#161616" stroke-width="1.43" fill="#fff"/>
<ellipse cx="706.3" cy="75.6" rx="4" ry="1.9" fill="#161616"/>
<ellipse cx="706.3" cy="75.6" rx="2" ry="0.7" fill="#9fcfb8"/>
<path d="M698.2,83.2 L713.8,83.2 L713.8,546.3 L712.8,548 L712.8,584.6 L699.2,584.6 L699.2,548 L698.2,546.3 Z" stroke="#161616" stroke-width="1.5" fill="#fff"/>
<rect x="701" y="84" width="10.7" height="14" rx="0" stroke="#161616" stroke-width="1.56" fill="#e6efea"/>
<rect x="703" y="98" width="6.7" height="15.3" rx="0" stroke="#161616" stroke-width="1.43" fill="#dcefe5"/>
<rect x="702" y="114" width="8.5" height="470" fill="#d9efe3"/>
<line x1="702.8" y1="114" x2="702.8" y2="584" stroke="#161616" stroke-width="1.3" />
<line x1="710.5" y1="114" x2="710.5" y2="584" stroke="#161616" stroke-width="1.3" />
<line x1="706" y1="70" x2="706" y2="595" stroke="#3a8165" stroke-width="0.9" stroke-dasharray="10,2.2,2.5,2.2"/>
<rect x="737.9" y="126.7" width="7.0" height="482.8" rx="1" stroke="#161616" stroke-width="1.69" fill="#2a5542"/>
<line x1="741.4" y1="120" x2="741.4" y2="128" stroke="#3a8165" stroke-width="0.9"/>
<line x1="741.4" y1="132" x2="741.4" y2="606" stroke="#e6f4ec" stroke-width="1.1" stroke-dasharray="4,12"/>
<line x1="741.4" y1="609" x2="741.4" y2="616" stroke="#3a8165" stroke-width="0.9"/>
<path d="M825,31.8 L891,31.8 L891,85 L890.4,87 L893.8,400 L895.5,643.5 L896.5,649 L893,662 L893,678 L897,680 L897,707.6 L820,707.6 L820,680 L824,678 L824,662 L820.5,649 L822,643.5 L823.4,400 L826,87 L825,85 Z" stroke="#161616" stroke-width="1.7" fill="#fafafa"/>
<path d="M829,32.5 L888,32.5 L888,643.5 L829,643.5 Z" stroke="#161616" stroke-width="1.5" fill="#ebebeb"/>
<path d="M825,31.8 L891,31.8" stroke="#161616" stroke-width="2"/>
<rect x="828.4" y="39.6" width="59.8" height="15.4" rx="0" stroke="#161616" stroke-width="1.95" fill="#ebebeb"/>
<rect x="828" y="39.2" width="2.4" height="16.2" fill="#161616"/>
<line x1="828.6" y1="70.5" x2="887.6" y2="70.5" stroke="#161616" stroke-width="1.43" />
<line x1="829" y1="470.4" x2="888" y2="470.4" stroke="#161616" stroke-width="1.43" />
<path d="M822.5,646 L829,646 M888,646 L895,646" stroke="#161616" stroke-width="1"/>
<path d="M829,643.5 L826,650 L826,666 L891,666 L891,650 L888,643.5 Z" stroke="#161616" stroke-width="1.2" fill="#ebebeb"/>
<rect x="827.7" y="666" width="62.0" height="12" rx="0" stroke="#161616" stroke-width="1.56" fill="#ebebeb"/>
<rect x="823" y="680" width="71" height="20" rx="0" stroke="#161616" stroke-width="2.08" fill="#ebebeb"/>
<rect x="823" y="700" width="71" height="5" rx="0" stroke="#161616" stroke-width="1.56" fill="#ebebeb"/>
<line x1="858.6" y1="20" x2="858.6" y2="890" stroke="#3a8165" stroke-width="1.1" stroke-dasharray="21.5,4.3,5,4"/>
<path d="M820.5,718 L898,718" stroke="#161616" stroke-width="3.2" stroke-linecap="round"/>
<rect x="829.2" y="727" width="58.7" height="24" rx="0" stroke="#161616" stroke-width="2.34" fill="#e7e7e7"/>
<rect x="827" y="758.8" width="62.7" height="17.8" rx="1.5" stroke="#161616" stroke-width="2.34" fill="#e7e7e7"/>
<line x1="831.5" y1="759.5" x2="831.5" y2="776" stroke="#161616" stroke-width="1.17" />
<rect x="824" y="783.5" width="67.8" height="7.5" rx="1" stroke="#161616" stroke-width="2.08" fill="#e7e7e7"/>
<line x1="830" y1="785.5" x2="886" y2="785.5" stroke="#161616" stroke-width="1.17" />
<path d="M823.5,798 L892.7,798 L892.7,806 L889,810.6 L827,810.6 L823.5,806 Z" stroke="#161616" stroke-width="1.6" fill="#e7e7e7"/>
<rect x="826" y="808" width="65" height="2.5" fill="#161616"/>
<path d="M823,819 L893.3,819" stroke="#161616" stroke-width="2.4" stroke-linecap="round"/>
<path d="M819.6,827 L896.9,827 L896.9,831.5 L891.8,834 L891.8,838.8 L825.6,838.8 L825.6,834 L819.6,831.5 Z" stroke="#161616" stroke-width="1.6" fill="#e7e7e7"/>
<line x1="825.6" y1="834" x2="891.8" y2="834" stroke="#161616" stroke-width="1.3" />
<path d="M42.6,45.2 L75.6,45.2" stroke="#b24e4e" stroke-width="1.15" fill="none"/>
<path d="M42.6,116 L88.9,116" stroke="#b24e4e" stroke-width="1.15" fill="none"/>
<path d="M42.3,222.6 L94.5,222.6" stroke="#b24e4e" stroke-width="1.15" fill="none"/>
<path d="M42.3,294.5 L97,294.5" stroke="#b24e4e" stroke-width="1.15" fill="none"/>
<path d="M41.3,395 L82,382.4" stroke="#b24e4e" stroke-width="1.15" fill="none"/>
<path d="M42.2,436.3 L83.7,433.4" stroke="#b24e4e" stroke-width="1.15" fill="none"/>
<path d="M41.8,510 L85.1,519.1" stroke="#b24e4e" stroke-width="1.15" fill="none"/>
<path d="M42.3,544.5 L76.5,544.5" stroke="#b24e4e" stroke-width="1.15" fill="none"/>
<path d="M42,616.1 L96.3,621.1" stroke="#b24e4e" stroke-width="1.15" fill="none"/>
<path d="M40.8,647.8 L96.3,636.6" stroke="#b24e4e" stroke-width="1.15" fill="none"/>
<path d="M46,684.5 L90,682.3" stroke="#b24e4e" stroke-width="1.15" fill="none"/>
<path d="M42.3,722 L92,723.5" stroke="#b24e4e" stroke-width="1.15" fill="none"/>
<path d="M40.8,753.4 L82.3,741.3" stroke="#b24e4e" stroke-width="1.15" fill="none"/>
<path d="M40.6,786.4 L87,760.9" stroke="#b24e4e" stroke-width="1.15" fill="none"/>
<path d="M40.6,822.3 L88.5,799.4" stroke="#b24e4e" stroke-width="1.15" fill="none"/>
<path d="M163,729 L105.6,770.2" stroke="#b24e4e" stroke-width="1.15" fill="none"/>
<path d="M161,762 L111.8,780.1" stroke="#b24e4e" stroke-width="1.15" fill="none"/>
<path d="M160.4,792.3 L107.1,789.4" stroke="#b24e4e" stroke-width="1.15" fill="none"/>
<path d="M161,823 L105.6,810.6" stroke="#b24e4e" stroke-width="1.15" fill="none"/>
<path d="M303.4,44.4 L186.6,34.9" stroke="#b24e4e" stroke-width="1.15" fill="none"/>
<path d="M303.6,77.5 L185.5,50.6" stroke="#b24e4e" stroke-width="1.15" fill="none"/>
<path d="M303.5,149.6 L223.3,135.8" stroke="#b24e4e" stroke-width="1.15" fill="none"/>
<path d="M304.3,182 L220.6,145.4" stroke="#b24e4e" stroke-width="1.15" fill="none"/>
<path d="M268.3,468.6 L218.5,457.2" stroke="#b24e4e" stroke-width="1.15" fill="none"/>
<path d="M268.7,501.5 L215.2,478.5" stroke="#b24e4e" stroke-width="1.15" fill="none"/>
<path d="M268.5,583.6 L216.6,597.8" stroke="#b24e4e" stroke-width="1.15" fill="none"/>
<path d="M268,617.6 L206.8,627.4" stroke="#b24e4e" stroke-width="1.15" fill="none"/>
<path d="M268,651.6 L218.5,656.8" stroke="#b24e4e" stroke-width="1.15" fill="none"/>
<path d="M394,198 L455,292.7" stroke="#b24e4e" stroke-width="1.15" fill="none"/>
<path d="M394.5,233 L453.1,305" stroke="#b24e4e" stroke-width="1.15" fill="none"/>
<path d="M396,268 L447.5,312.7" stroke="#b24e4e" stroke-width="1.15" fill="none"/>
<path d="M397.2,300.5 L445,321.5" stroke="#b24e4e" stroke-width="1.15" fill="none"/>
<path d="M398.4,334.5 L455,349.5" stroke="#b24e4e" stroke-width="1.15" fill="none"/>
<path d="M398.6,365.2 L447.8,361.9" stroke="#b24e4e" stroke-width="1.15" fill="none"/>
<path d="M398.2,395.8 L453.1,369.3" stroke="#b24e4e" stroke-width="1.15" fill="none"/>
<path d="M396.3,428.6 L449.4,380.6" stroke="#b24e4e" stroke-width="1.15" fill="none"/>
<path d="M396.3,463.2 L451.5,424" stroke="#b24e4e" stroke-width="1.15" fill="none"/>
<path d="M576.9,376.5 L556.6,376.5" stroke="#b24e4e" stroke-width="1.15" fill="none"/>
<path d="M398.3,684.2 L436.5,669.2" stroke="#b24e4e" stroke-width="1.15" fill="none"/>
<path d="M397.6,718.8 L438.1,696.4" stroke="#b24e4e" stroke-width="1.15" fill="none"/>
<path d="M718.8,728.2 L648.3,728.2" stroke="#b24e4e" stroke-width="1.15" fill="none"/>
<path d="M718.8,763.3 L651.5,762.5" stroke="#b24e4e" stroke-width="1.15" fill="none"/>
<path d="M719.5,794.8 L654.8,773.9" stroke="#b24e4e" stroke-width="1.15" fill="none"/>
<path d="M718.8,834.7 L648.3,834.7" stroke="#b24e4e" stroke-width="1.15" fill="none"/>
<path d="M646.6,35.2 L703.2,54.4" stroke="#1a1a1a" stroke-width="1.15" fill="none"/>
<path d="M647.3,68.4 L702.6,75.5" stroke="#1a1a1a" stroke-width="1.15" fill="none"/>
<path d="M647.2,387.2 L701.5,387.2" stroke="#1a1a1a" stroke-width="1.15" fill="none"/>
<path d="M647.2,600.2 L738,600.2" stroke="#1a1a1a" stroke-width="1.15" fill="none"/>
<path d="M940,614.4 L886.6,614.4" stroke="#b24e4e" stroke-width="1.15" fill="none"/>
<path d="M943.2,679.2 L898.7,717.9" stroke="#b24e4e" stroke-width="1.15" fill="none"/>
<path d="M941.3,707.2 L882.8,739.8" stroke="#b24e4e" stroke-width="1.15" fill="none"/>
<path d="M940.6,741.8 L882.8,766" stroke="#b24e4e" stroke-width="1.15" fill="none"/>
<path d="M940,773.4 L887.3,784.1" stroke="#b24e4e" stroke-width="1.15" fill="none"/>
<path d="M939.6,803.8 L887.3,803.2" stroke="#b24e4e" stroke-width="1.15" fill="none"/>
<path d="M940.3,833.6 L893.3,819" stroke="#b24e4e" stroke-width="1.15" fill="none"/>
<path d="M941.2,863.5 L891.8,837.6" stroke="#b24e4e" stroke-width="1.15" fill="none"/>
<circle cx="30.6" cy="45.2" r="12" stroke="#934242" stroke-width="1.3" fill="#fff"/>
<path transform="translate(24.75,39.70) scale(0.92,1.000)" d="M3.25,0 C0.6,0 0,2.6 0,5.5 C0,8.4 0.6,11 3.25,11 C5.9,11 6.5,8.4 6.5,5.5 C6.5,2.6 5.9,0 3.25,0 Z" stroke="#9a3c3c" stroke-width="1.05" fill="none" stroke-linecap="round" stroke-linejoin="round"/>
<path transform="translate(32.65,39.70) scale(0.92,1.000)" d="M5.9,1.2 C5.3,0.4 4.4,0 3.3,0 C1.2,0 0,2.2 0,5.5 L0,7.5 C0,9.6 1.3,11 3.25,11 C5.2,11 6.5,9.6 6.5,7.6 C6.5,5.6 5.2,4.3 3.3,4.3 C1.7,4.3 0.5,5.2 0,6.6" stroke="#9a3c3c" stroke-width="1.05" fill="none" stroke-linecap="round" stroke-linejoin="round"/>
<circle cx="30.6" cy="116.0" r="12" stroke="#934242" stroke-width="1.3" fill="#fff"/>
<path transform="translate(24.75,110.50) scale(0.92,1.000)" d="M1,2.6 L4,0 L4,11" stroke="#9a3c3c" stroke-width="1.05" fill="none" stroke-linecap="round" stroke-linejoin="round"/>
<path transform="translate(32.65,110.50) scale(0.92,1.000)" d="M5.9,1.2 C5.3,0.4 4.4,0 3.3,0 C1.2,0 0,2.2 0,5.5 L0,7.5 C0,9.6 1.3,11 3.25,11 C5.2,11 6.5,9.6 6.5,7.6 C6.5,5.6 5.2,4.3 3.3,4.3 C1.7,4.3 0.5,5.2 0,6.6" stroke="#9a3c3c" stroke-width="1.05" fill="none" stroke-linecap="round" stroke-linejoin="round"/>
<circle cx="30.3" cy="222.6" r="12" stroke="#934242" stroke-width="1.3" fill="#fff"/>
<path transform="translate(24.45,217.10) scale(0.92,1.000)" d="M0.3,0 L6.2,0 L2.8,4.5 C5,4.3 6.5,5.8 6.5,7.8 C6.5,9.8 5,11 3.2,11 C1.7,11 0.6,10.3 0,9.2" stroke="#9a3c3c" stroke-width="1.05" fill="none" stroke-linecap="round" stroke-linejoin="round"/>
<path transform="translate(32.35,217.10) scale(0.92,1.000)" d="M0.3,0 L6.2,0 L2.8,4.5 C5,4.3 6.5,5.8 6.5,7.8 C6.5,9.8 5,11 3.2,11 C1.7,11 0.6,10.3 0,9.2" stroke="#9a3c3c" stroke-width="1.05" fill="none" stroke-linecap="round" stroke-linejoin="round"/>
<circle cx="30.3" cy="294.5" r="12" stroke="#934242" stroke-width="1.3" fill="#fff"/>
<path transform="translate(24.45,289.00) scale(0.92,1.000)" d="M0.3,0 L6.2,0 L2.8,4.5 C5,4.3 6.5,5.8 6.5,7.8 C6.5,9.8 5,11 3.2,11 C1.7,11 0.6,10.3 0,9.2" stroke="#9a3c3c" stroke-width="1.05" fill="none" stroke-linecap="round" stroke-linejoin="round"/>
<path transform="translate(32.35,289.00) scale(0.92,1.000)" d="M5.9,1.2 C5.3,0.4 4.4,0 3.3,0 C1.2,0 0,2.2 0,5.5 L0,7.5 C0,9.6 1.3,11 3.25,11 C5.2,11 6.5,9.6 6.5,7.6 C6.5,5.6 5.2,4.3 3.3,4.3 C1.7,4.3 0.5,5.2 0,6.6" stroke="#9a3c3c" stroke-width="1.05" fill="none" stroke-linecap="round" stroke-linejoin="round"/>
<circle cx="30.3" cy="400.5" r="12" stroke="#934242" stroke-width="1.3" fill="#fff"/>
<path transform="translate(24.45,395.00) scale(0.92,1.000)" d="M1,2.6 L4,0 L4,11" stroke="#9a3c3c" stroke-width="1.05" fill="none" stroke-linecap="round" stroke-linejoin="round"/>
<path transform="translate(32.35,395.00) scale(0.92,1.000)" d="M0.2,2.8 C0.5,0.9 1.8,0 3.3,0 C5.2,0 6.3,1.3 6.3,3 C6.3,5 4.6,6.5 0,11 L6.5,11" stroke="#9a3c3c" stroke-width="1.05" fill="none" stroke-linecap="round" stroke-linejoin="round"/>
<circle cx="30.3" cy="436.3" r="12" stroke="#934242" stroke-width="1.3" fill="#fff"/>
<path transform="translate(24.45,430.80) scale(0.92,1.000)" d="M0.2,2.8 C0.5,0.9 1.8,0 3.3,0 C5.2,0 6.3,1.3 6.3,3 C6.3,5 4.6,6.5 0,11 L6.5,11" stroke="#9a3c3c" stroke-width="1.05" fill="none" stroke-linecap="round" stroke-linejoin="round"/>
<path transform="translate(32.35,430.80) scale(0.92,1.000)" d="M3.4,0 L0,7.8 L6.5,7.8 M4.9,3.6 L4.9,11" stroke="#9a3c3c" stroke-width="1.05" fill="none" stroke-linecap="round" stroke-linejoin="round"/>
<circle cx="30.3" cy="508.4" r="12" stroke="#934242" stroke-width="1.3" fill="#fff"/>
<path transform="translate(24.45,502.90) scale(0.92,1.000)" d="M0.2,2.8 C0.5,0.9 1.8,0 3.3,0 C5.2,0 6.3,1.3 6.3,3 C6.3,5 4.6,6.5 0,11 L6.5,11" stroke="#9a3c3c" stroke-width="1.05" fill="none" stroke-linecap="round" stroke-linejoin="round"/>
<path transform="translate(32.35,502.90) scale(0.92,1.000)" d="M6,0 L1,0 L0.5,4.8 C1.3,4.2 2.2,4 3.2,4 C5.2,4 6.5,5.5 6.5,7.5 C6.5,9.6 5.1,11 3.2,11 C1.8,11 0.7,10.4 0,9.3" stroke="#9a3c3c" stroke-width="1.05" fill="none" stroke-linecap="round" stroke-linejoin="round"/>
<circle cx="30.3" cy="544.5" r="12" stroke="#934242" stroke-width="1.3" fill="#fff"/>
<path transform="translate(24.45,539.00) scale(0.92,1.000)" d="M0.2,2.8 C0.5,0.9 1.8,0 3.3,0 C5.2,0 6.3,1.3 6.3,3 C6.3,5 4.6,6.5 0,11 L6.5,11" stroke="#9a3c3c" stroke-width="1.05" fill="none" stroke-linecap="round" stroke-linejoin="round"/>
<path transform="translate(32.35,539.00) scale(0.92,1.000)" d="M5.9,1.2 C5.3,0.4 4.4,0 3.3,0 C1.2,0 0,2.2 0,5.5 L0,7.5 C0,9.6 1.3,11 3.25,11 C5.2,11 6.5,9.6 6.5,7.6 C6.5,5.6 5.2,4.3 3.3,4.3 C1.7,4.3 0.5,5.2 0,6.6" stroke="#9a3c3c" stroke-width="1.05" fill="none" stroke-linecap="round" stroke-linejoin="round"/>
<circle cx="30.3" cy="615.3" r="12" stroke="#934242" stroke-width="1.3" fill="#fff"/>
<path transform="translate(24.45,609.80) scale(0.92,1.000)" d="M3.4,0 L0,7.8 L6.5,7.8 M4.9,3.6 L4.9,11" stroke="#9a3c3c" stroke-width="1.05" fill="none" stroke-linecap="round" stroke-linejoin="round"/>
<path transform="translate(32.35,609.80) scale(0.92,1.000)" d="M0.2,2.8 C0.5,0.9 1.8,0 3.3,0 C5.2,0 6.3,1.3 6.3,3 C6.3,5 4.6,6.5 0,11 L6.5,11" stroke="#9a3c3c" stroke-width="1.05" fill="none" stroke-linecap="round" stroke-linejoin="round"/>
<circle cx="30.3" cy="649.7" r="12" stroke="#934242" stroke-width="1.3" fill="#fff"/>
<path transform="translate(24.45,644.20) scale(0.92,1.000)" d="M3.4,0 L0,7.8 L6.5,7.8 M4.9,3.6 L4.9,11" stroke="#9a3c3c" stroke-width="1.05" fill="none" stroke-linecap="round" stroke-linejoin="round"/>
<path transform="translate(32.35,644.20) scale(0.92,1.000)" d="M3.4,0 L0,7.8 L6.5,7.8 M4.9,3.6 L4.9,11" stroke="#9a3c3c" stroke-width="1.05" fill="none" stroke-linecap="round" stroke-linejoin="round"/>
<ellipse cx="29.5" cy="684.5" rx="16.2" ry="12.1" stroke="#934242" stroke-width="1.3" fill="#fff"/>
<path transform="translate(18.45,679.00) scale(0.92,1.000)" d="M3.4,0 L0,7.8 L6.5,7.8 M4.9,3.6 L4.9,11" stroke="#9a3c3c" stroke-width="1.05" fill="none" stroke-linecap="round" stroke-linejoin="round"/>
<path transform="translate(26.35,679.00) scale(0.92,1.000)" d="M0.6,9.8 C1.2,10.6 2.1,11 3.2,11 C5.3,11 6.5,8.8 6.5,5.5 L6.5,3.5 C6.5,1.4 5.2,0 3.25,0 C1.3,0 0,1.4 0,3.4 C0,5.4 1.3,6.7 3.2,6.7 C4.8,6.7 6,5.8 6.5,4.4" stroke="#9a3c3c" stroke-width="1.05" fill="none" stroke-linecap="round" stroke-linejoin="round"/>
<path transform="translate(34.25,679.00) scale(0.92,1.000)" d="M1,10.4 L1,11" stroke="#9a3c3c" stroke-width="1.05" fill="none" stroke-linecap="round" stroke-linejoin="round"/>
<path transform="translate(36.75,679.00) scale(0.92,1.000)" d="M1,2.6 L4,0 L4,11" stroke="#9a3c3c" stroke-width="1.05" fill="none" stroke-linecap="round" stroke-linejoin="round"/>
<circle cx="30.3" cy="722.0" r="12" stroke="#934242" stroke-width="1.3" fill="#fff"/>
<path transform="translate(24.45,716.50) scale(0.92,1.000)" d="M5.9,1.2 C5.3,0.4 4.4,0 3.3,0 C1.2,0 0,2.2 0,5.5 L0,7.5 C0,9.6 1.3,11 3.25,11 C5.2,11 6.5,9.6 6.5,7.6 C6.5,5.6 5.2,4.3 3.3,4.3 C1.7,4.3 0.5,5.2 0,6.6" stroke="#9a3c3c" stroke-width="1.05" fill="none" stroke-linecap="round" stroke-linejoin="round"/>
<path transform="translate(32.35,716.50) scale(0.92,1.000)" d="M0.3,0 L6.2,0 L2.8,4.5 C5,4.3 6.5,5.8 6.5,7.8 C6.5,9.8 5,11 3.2,11 C1.7,11 0.6,10.3 0,9.2" stroke="#9a3c3c" stroke-width="1.05" fill="none" stroke-linecap="round" stroke-linejoin="round"/>
<circle cx="30.3" cy="757.5" r="12" stroke="#934242" stroke-width="1.3" fill="#fff"/>
<path transform="translate(24.45,752.00) scale(0.92,1.000)" d="M5.9,1.2 C5.3,0.4 4.4,0 3.3,0 C1.2,0 0,2.2 0,5.5 L0,7.5 C0,9.6 1.3,11 3.25,11 C5.2,11 6.5,9.6 6.5,7.6 C6.5,5.6 5.2,4.3 3.3,4.3 C1.7,4.3 0.5,5.2 0,6.6" stroke="#9a3c3c" stroke-width="1.05" fill="none" stroke-linecap="round" stroke-linejoin="round"/>
<path transform="translate(32.35,752.00) scale(0.92,1.000)" d="M0.2,2.8 C0.5,0.9 1.8,0 3.3,0 C5.2,0 6.3,1.3 6.3,3 C6.3,5 4.6,6.5 0,11 L6.5,11" stroke="#9a3c3c" stroke-width="1.05" fill="none" stroke-linecap="round" stroke-linejoin="round"/>
<circle cx="30.3" cy="792.5" r="12" stroke="#934242" stroke-width="1.3" fill="#fff"/>
<path transform="translate(24.45,787.00) scale(0.92,1.000)" d="M6,0 L1,0 L0.5,4.8 C1.3,4.2 2.2,4 3.2,4 C5.2,4 6.5,5.5 6.5,7.5 C6.5,9.6 5.1,11 3.2,11 C1.8,11 0.7,10.4 0,9.3" stroke="#9a3c3c" stroke-width="1.05" fill="none" stroke-linecap="round" stroke-linejoin="round"/>
<path transform="translate(32.35,787.00) scale(0.92,1.000)" d="M0.6,9.8 C1.2,10.6 2.1,11 3.2,11 C5.3,11 6.5,8.8 6.5,5.5 L6.5,3.5 C6.5,1.4 5.2,0 3.25,0 C1.3,0 0,1.4 0,3.4 C0,5.4 1.3,6.7 3.2,6.7 C4.8,6.7 6,5.8 6.5,4.4" stroke="#9a3c3c" stroke-width="1.05" fill="none" stroke-linecap="round" stroke-linejoin="round"/>
<circle cx="30.3" cy="828.3" r="12" stroke="#934242" stroke-width="1.3" fill="#fff"/>
<path transform="translate(24.45,822.80) scale(0.92,1.000)" d="M6,0 L1,0 L0.5,4.8 C1.3,4.2 2.2,4 3.2,4 C5.2,4 6.5,5.5 6.5,7.5 C6.5,9.6 5.1,11 3.2,11 C1.8,11 0.7,10.4 0,9.3" stroke="#9a3c3c" stroke-width="1.05" fill="none" stroke-linecap="round" stroke-linejoin="round"/>
<path transform="translate(32.35,822.80) scale(0.92,1.000)" d="M1,2.6 L4,0 L4,11" stroke="#9a3c3c" stroke-width="1.05" fill="none" stroke-linecap="round" stroke-linejoin="round"/>
<circle cx="172.4" cy="721.7" r="12" stroke="#934242" stroke-width="1.3" fill="#fff"/>
<path transform="translate(166.55,716.20) scale(0.92,1.000)" d="M6,0 L1,0 L0.5,4.8 C1.3,4.2 2.2,4 3.2,4 C5.2,4 6.5,5.5 6.5,7.5 C6.5,9.6 5.1,11 3.2,11 C1.8,11 0.7,10.4 0,9.3" stroke="#9a3c3c" stroke-width="1.05" fill="none" stroke-linecap="round" stroke-linejoin="round"/>
<path transform="translate(174.45,716.20) scale(0.92,1.000)" d="M0.3,0 L6.2,0 L2.8,4.5 C5,4.3 6.5,5.8 6.5,7.8 C6.5,9.8 5,11 3.2,11 C1.7,11 0.6,10.3 0,9.2" stroke="#9a3c3c" stroke-width="1.05" fill="none" stroke-linecap="round" stroke-linejoin="round"/>
<circle cx="172.4" cy="756.8" r="12" stroke="#934242" stroke-width="1.3" fill="#fff"/>
<path transform="translate(166.55,751.30) scale(0.92,1.000)" d="M6,0 L1,0 L0.5,4.8 C1.3,4.2 2.2,4 3.2,4 C5.2,4 6.5,5.5 6.5,7.5 C6.5,9.6 5.1,11 3.2,11 C1.8,11 0.7,10.4 0,9.3" stroke="#9a3c3c" stroke-width="1.05" fill="none" stroke-linecap="round" stroke-linejoin="round"/>
<path transform="translate(174.45,751.30) scale(0.92,1.000)" d="M0,0 L6.5,0 L2.3,11" stroke="#9a3c3c" stroke-width="1.05" fill="none" stroke-linecap="round" stroke-linejoin="round"/>
<circle cx="172.4" cy="792.5" r="12" stroke="#934242" stroke-width="1.3" fill="#fff"/>
<path transform="translate(166.55,787.00) scale(0.92,1.000)" d="M6,0 L1,0 L0.5,4.8 C1.3,4.2 2.2,4 3.2,4 C5.2,4 6.5,5.5 6.5,7.5 C6.5,9.6 5.1,11 3.2,11 C1.8,11 0.7,10.4 0,9.3" stroke="#9a3c3c" stroke-width="1.05" fill="none" stroke-linecap="round" stroke-linejoin="round"/>
<path transform="translate(174.45,787.00) scale(0.92,1.000)" d="M6,0 L1,0 L0.5,4.8 C1.3,4.2 2.2,4 3.2,4 C5.2,4 6.5,5.5 6.5,7.5 C6.5,9.6 5.1,11 3.2,11 C1.8,11 0.7,10.4 0,9.3" stroke="#9a3c3c" stroke-width="1.05" fill="none" stroke-linecap="round" stroke-linejoin="round"/>
<circle cx="172.4" cy="828.3" r="12" stroke="#934242" stroke-width="1.3" fill="#fff"/>
<path transform="translate(166.55,822.80) scale(0.92,1.000)" d="M5.9,1.2 C5.3,0.4 4.4,0 3.3,0 C1.2,0 0,2.2 0,5.5 L0,7.5 C0,9.6 1.3,11 3.25,11 C5.2,11 6.5,9.6 6.5,7.6 C6.5,5.6 5.2,4.3 3.3,4.3 C1.7,4.3 0.5,5.2 0,6.6" stroke="#9a3c3c" stroke-width="1.05" fill="none" stroke-linecap="round" stroke-linejoin="round"/>
<path transform="translate(174.45,822.80) scale(0.92,1.000)" d="M6,0 L1,0 L0.5,4.8 C1.3,4.2 2.2,4 3.2,4 C5.2,4 6.5,5.5 6.5,7.5 C6.5,9.6 5.1,11 3.2,11 C1.8,11 0.7,10.4 0,9.3" stroke="#9a3c3c" stroke-width="1.05" fill="none" stroke-linecap="round" stroke-linejoin="round"/>
<circle cx="315.4" cy="45.0" r="12" stroke="#934242" stroke-width="1.3" fill="#fff"/>
<path transform="translate(309.55,39.50) scale(0.92,1.000)" d="M3.25,0 C0.6,0 0,2.6 0,5.5 C0,8.4 0.6,11 3.25,11 C5.9,11 6.5,8.4 6.5,5.5 C6.5,2.6 5.9,0 3.25,0 Z" stroke="#9a3c3c" stroke-width="1.05" fill="none" stroke-linecap="round" stroke-linejoin="round"/>
<path transform="translate(317.45,39.50) scale(0.92,1.000)" d="M0.6,9.8 C1.2,10.6 2.1,11 3.2,11 C5.3,11 6.5,8.8 6.5,5.5 L6.5,3.5 C6.5,1.4 5.2,0 3.25,0 C1.3,0 0,1.4 0,3.4 C0,5.4 1.3,6.7 3.2,6.7 C4.8,6.7 6,5.8 6.5,4.4" stroke="#9a3c3c" stroke-width="1.05" fill="none" stroke-linecap="round" stroke-linejoin="round"/>
<circle cx="315.4" cy="80.6" r="12" stroke="#934242" stroke-width="1.3" fill="#fff"/>
<path transform="translate(309.55,75.10) scale(0.92,1.000)" d="M1,2.6 L4,0 L4,11" stroke="#9a3c3c" stroke-width="1.05" fill="none" stroke-linecap="round" stroke-linejoin="round"/>
<path transform="translate(317.45,75.10) scale(0.92,1.000)" d="M3.25,0 C0.6,0 0,2.6 0,5.5 C0,8.4 0.6,11 3.25,11 C5.9,11 6.5,8.4 6.5,5.5 C6.5,2.6 5.9,0 3.25,0 Z" stroke="#9a3c3c" stroke-width="1.05" fill="none" stroke-linecap="round" stroke-linejoin="round"/>
<circle cx="315.4" cy="151.6" r="12" stroke="#934242" stroke-width="1.3" fill="#fff"/>
<path transform="translate(309.55,146.10) scale(0.92,1.000)" d="M3.25,0 C0.6,0 0,2.6 0,5.5 C0,8.4 0.6,11 3.25,11 C5.9,11 6.5,8.4 6.5,5.5 C6.5,2.6 5.9,0 3.25,0 Z" stroke="#9a3c3c" stroke-width="1.05" fill="none" stroke-linecap="round" stroke-linejoin="round"/>
<path transform="translate(317.45,146.10) scale(0.92,1.000)" d="M0,0 L6.5,0 L2.3,11" stroke="#9a3c3c" stroke-width="1.05" fill="none" stroke-linecap="round" stroke-linejoin="round"/>
<circle cx="315.4" cy="187.0" r="12" stroke="#934242" stroke-width="1.3" fill="#fff"/>
<path transform="translate(309.55,181.50) scale(0.92,1.000)" d="M3.25,0 C0.6,0 0,2.6 0,5.5 C0,8.4 0.6,11 3.25,11 C5.9,11 6.5,8.4 6.5,5.5 C6.5,2.6 5.9,0 3.25,0 Z" stroke="#9a3c3c" stroke-width="1.05" fill="none" stroke-linecap="round" stroke-linejoin="round"/>
<path transform="translate(317.45,181.50) scale(0.92,1.000)" d="M3.25,5 C1.5,5 0.5,4 0.5,2.5 C0.5,1 1.6,0 3.25,0 C4.9,0 6,1 6,2.5 C6,4 5,5 3.25,5 C1.2,5 0,6.2 0,8 C0,9.8 1.3,11 3.25,11 C5.2,11 6.5,9.8 6.5,8 C6.5,6.2 5.3,5 3.25,5 Z" stroke="#9a3c3c" stroke-width="1.05" fill="none" stroke-linecap="round" stroke-linejoin="round"/>
<circle cx="279.8" cy="472.0" r="12" stroke="#934242" stroke-width="1.3" fill="#fff"/>
<path transform="translate(273.95,466.50) scale(0.92,1.000)" d="M0.2,2.8 C0.5,0.9 1.8,0 3.3,0 C5.2,0 6.3,1.3 6.3,3 C6.3,5 4.6,6.5 0,11 L6.5,11" stroke="#9a3c3c" stroke-width="1.05" fill="none" stroke-linecap="round" stroke-linejoin="round"/>
<path transform="translate(281.85,466.50) scale(0.92,1.000)" d="M0,0 L6.5,0 L2.3,11" stroke="#9a3c3c" stroke-width="1.05" fill="none" stroke-linecap="round" stroke-linejoin="round"/>
<circle cx="279.8" cy="508.0" r="12" stroke="#934242" stroke-width="1.3" fill="#fff"/>
<path transform="translate(273.95,502.50) scale(0.92,1.000)" d="M0.2,2.8 C0.5,0.9 1.8,0 3.3,0 C5.2,0 6.3,1.3 6.3,3 C6.3,5 4.6,6.5 0,11 L6.5,11" stroke="#9a3c3c" stroke-width="1.05" fill="none" stroke-linecap="round" stroke-linejoin="round"/>
<path transform="translate(281.85,502.50) scale(0.92,1.000)" d="M3.25,5 C1.5,5 0.5,4 0.5,2.5 C0.5,1 1.6,0 3.25,0 C4.9,0 6,1 6,2.5 C6,4 5,5 3.25,5 C1.2,5 0,6.2 0,8 C0,9.8 1.3,11 3.25,11 C5.2,11 6.5,9.8 6.5,8 C6.5,6.2 5.3,5 3.25,5 Z" stroke="#9a3c3c" stroke-width="1.05" fill="none" stroke-linecap="round" stroke-linejoin="round"/>
<circle cx="279.8" cy="579.7" r="12" stroke="#934242" stroke-width="1.3" fill="#fff"/>
<path transform="translate(273.95,574.20) scale(0.92,1.000)" d="M0.2,2.8 C0.5,0.9 1.8,0 3.3,0 C5.2,0 6.3,1.3 6.3,3 C6.3,5 4.6,6.5 0,11 L6.5,11" stroke="#9a3c3c" stroke-width="1.05" fill="none" stroke-linecap="round" stroke-linejoin="round"/>
<path transform="translate(281.85,574.20) scale(0.92,1.000)" d="M0.6,9.8 C1.2,10.6 2.1,11 3.2,11 C5.3,11 6.5,8.8 6.5,5.5 L6.5,3.5 C6.5,1.4 5.2,0 3.25,0 C1.3,0 0,1.4 0,3.4 C0,5.4 1.3,6.7 3.2,6.7 C4.8,6.7 6,5.8 6.5,4.4" stroke="#9a3c3c" stroke-width="1.05" fill="none" stroke-linecap="round" stroke-linejoin="round"/>
<circle cx="279.8" cy="615.2" r="12" stroke="#934242" stroke-width="1.3" fill="#fff"/>
<path transform="translate(273.95,609.70) scale(0.92,1.000)" d="M0.3,0 L6.2,0 L2.8,4.5 C5,4.3 6.5,5.8 6.5,7.8 C6.5,9.8 5,11 3.2,11 C1.7,11 0.6,10.3 0,9.2" stroke="#9a3c3c" stroke-width="1.05" fill="none" stroke-linecap="round" stroke-linejoin="round"/>
<path transform="translate(281.85,609.70) scale(0.92,1.000)" d="M1,2.6 L4,0 L4,11" stroke="#9a3c3c" stroke-width="1.05" fill="none" stroke-linecap="round" stroke-linejoin="round"/>
<circle cx="279.8" cy="650.5" r="12" stroke="#934242" stroke-width="1.3" fill="#fff"/>
<path transform="translate(273.95,645.00) scale(0.92,1.000)" d="M0.3,0 L6.2,0 L2.8,4.5 C5,4.3 6.5,5.8 6.5,7.8 C6.5,9.8 5,11 3.2,11 C1.7,11 0.6,10.3 0,9.2" stroke="#9a3c3c" stroke-width="1.05" fill="none" stroke-linecap="round" stroke-linejoin="round"/>
<path transform="translate(281.85,645.00) scale(0.92,1.000)" d="M3.25,0 C0.6,0 0,2.6 0,5.5 C0,8.4 0.6,11 3.25,11 C5.9,11 6.5,8.4 6.5,5.5 C6.5,2.6 5.9,0 3.25,0 Z" stroke="#9a3c3c" stroke-width="1.05" fill="none" stroke-linecap="round" stroke-linejoin="round"/>
<circle cx="386.6" cy="187.6" r="12" stroke="#934242" stroke-width="1.3" fill="#fff"/>
<path transform="translate(380.75,182.10) scale(0.92,1.000)" d="M5.9,1.2 C5.3,0.4 4.4,0 3.3,0 C1.2,0 0,2.2 0,5.5 L0,7.5 C0,9.6 1.3,11 3.25,11 C5.2,11 6.5,9.6 6.5,7.6 C6.5,5.6 5.2,4.3 3.3,4.3 C1.7,4.3 0.5,5.2 0,6.6" stroke="#9a3c3c" stroke-width="1.05" fill="none" stroke-linecap="round" stroke-linejoin="round"/>
<path transform="translate(388.65,182.10) scale(0.92,1.000)" d="M5.9,1.2 C5.3,0.4 4.4,0 3.3,0 C1.2,0 0,2.2 0,5.5 L0,7.5 C0,9.6 1.3,11 3.25,11 C5.2,11 6.5,9.6 6.5,7.6 C6.5,5.6 5.2,4.3 3.3,4.3 C1.7,4.3 0.5,5.2 0,6.6" stroke="#9a3c3c" stroke-width="1.05" fill="none" stroke-linecap="round" stroke-linejoin="round"/>
<circle cx="386.6" cy="223.3" r="12" stroke="#934242" stroke-width="1.3" fill="#fff"/>
<path transform="translate(380.75,217.80) scale(0.92,1.000)" d="M5.9,1.2 C5.3,0.4 4.4,0 3.3,0 C1.2,0 0,2.2 0,5.5 L0,7.5 C0,9.6 1.3,11 3.25,11 C5.2,11 6.5,9.6 6.5,7.6 C6.5,5.6 5.2,4.3 3.3,4.3 C1.7,4.3 0.5,5.2 0,6.6" stroke="#9a3c3c" stroke-width="1.05" fill="none" stroke-linecap="round" stroke-linejoin="round"/>
<path transform="translate(388.65,217.80) scale(0.92,1.000)" d="M3.4,0 L0,7.8 L6.5,7.8 M4.9,3.6 L4.9,11" stroke="#9a3c3c" stroke-width="1.05" fill="none" stroke-linecap="round" stroke-linejoin="round"/>
<circle cx="386.6" cy="258.8" r="12" stroke="#934242" stroke-width="1.3" fill="#fff"/>
<path transform="translate(380.75,253.30) scale(0.92,1.000)" d="M5.9,1.2 C5.3,0.4 4.4,0 3.3,0 C1.2,0 0,2.2 0,5.5 L0,7.5 C0,9.6 1.3,11 3.25,11 C5.2,11 6.5,9.6 6.5,7.6 C6.5,5.6 5.2,4.3 3.3,4.3 C1.7,4.3 0.5,5.2 0,6.6" stroke="#9a3c3c" stroke-width="1.05" fill="none" stroke-linecap="round" stroke-linejoin="round"/>
<path transform="translate(388.65,253.30) scale(0.92,1.000)" d="M1,2.6 L4,0 L4,11" stroke="#9a3c3c" stroke-width="1.05" fill="none" stroke-linecap="round" stroke-linejoin="round"/>
<circle cx="386.6" cy="293.9" r="12" stroke="#934242" stroke-width="1.3" fill="#fff"/>
<path transform="translate(380.75,288.40) scale(0.92,1.000)" d="M5.9,1.2 C5.3,0.4 4.4,0 3.3,0 C1.2,0 0,2.2 0,5.5 L0,7.5 C0,9.6 1.3,11 3.25,11 C5.2,11 6.5,9.6 6.5,7.6 C6.5,5.6 5.2,4.3 3.3,4.3 C1.7,4.3 0.5,5.2 0,6.6" stroke="#9a3c3c" stroke-width="1.05" fill="none" stroke-linecap="round" stroke-linejoin="round"/>
<path transform="translate(388.65,288.40) scale(0.92,1.000)" d="M3.25,0 C0.6,0 0,2.6 0,5.5 C0,8.4 0.6,11 3.25,11 C5.9,11 6.5,8.4 6.5,5.5 C6.5,2.6 5.9,0 3.25,0 Z" stroke="#9a3c3c" stroke-width="1.05" fill="none" stroke-linecap="round" stroke-linejoin="round"/>
<circle cx="386.6" cy="330.4" r="12" stroke="#934242" stroke-width="1.3" fill="#fff"/>
<path transform="translate(380.75,324.90) scale(0.92,1.000)" d="M6,0 L1,0 L0.5,4.8 C1.3,4.2 2.2,4 3.2,4 C5.2,4 6.5,5.5 6.5,7.5 C6.5,9.6 5.1,11 3.2,11 C1.8,11 0.7,10.4 0,9.3" stroke="#9a3c3c" stroke-width="1.05" fill="none" stroke-linecap="round" stroke-linejoin="round"/>
<path transform="translate(388.65,324.90) scale(0.92,1.000)" d="M3.4,0 L0,7.8 L6.5,7.8 M4.9,3.6 L4.9,11" stroke="#9a3c3c" stroke-width="1.05" fill="none" stroke-linecap="round" stroke-linejoin="round"/>
<circle cx="386.6" cy="365.5" r="12" stroke="#934242" stroke-width="1.3" fill="#fff"/>
<path transform="translate(380.75,360.00) scale(0.92,1.000)" d="M6,0 L1,0 L0.5,4.8 C1.3,4.2 2.2,4 3.2,4 C5.2,4 6.5,5.5 6.5,7.5 C6.5,9.6 5.1,11 3.2,11 C1.8,11 0.7,10.4 0,9.3" stroke="#9a3c3c" stroke-width="1.05" fill="none" stroke-linecap="round" stroke-linejoin="round"/>
<path transform="translate(388.65,360.00) scale(0.92,1.000)" d="M3.25,5 C1.5,5 0.5,4 0.5,2.5 C0.5,1 1.6,0 3.25,0 C4.9,0 6,1 6,2.5 C6,4 5,5 3.25,5 C1.2,5 0,6.2 0,8 C0,9.8 1.3,11 3.25,11 C5.2,11 6.5,9.8 6.5,8 C6.5,6.2 5.3,5 3.25,5 Z" stroke="#9a3c3c" stroke-width="1.05" fill="none" stroke-linecap="round" stroke-linejoin="round"/>
<circle cx="386.6" cy="400.2" r="12" stroke="#934242" stroke-width="1.3" fill="#fff"/>
<path transform="translate(380.75,394.70) scale(0.92,1.000)" d="M6,0 L1,0 L0.5,4.8 C1.3,4.2 2.2,4 3.2,4 C5.2,4 6.5,5.5 6.5,7.5 C6.5,9.6 5.1,11 3.2,11 C1.8,11 0.7,10.4 0,9.3" stroke="#9a3c3c" stroke-width="1.05" fill="none" stroke-linecap="round" stroke-linejoin="round"/>
<path transform="translate(388.65,394.70) scale(0.92,1.000)" d="M5.9,1.2 C5.3,0.4 4.4,0 3.3,0 C1.2,0 0,2.2 0,5.5 L0,7.5 C0,9.6 1.3,11 3.25,11 C5.2,11 6.5,9.6 6.5,7.6 C6.5,5.6 5.2,4.3 3.3,4.3 C1.7,4.3 0.5,5.2 0,6.6" stroke="#9a3c3c" stroke-width="1.05" fill="none" stroke-linecap="round" stroke-linejoin="round"/>
<circle cx="386.6" cy="436.4" r="12" stroke="#934242" stroke-width="1.3" fill="#fff"/>
<path transform="translate(380.75,430.90) scale(0.92,1.000)" d="M6,0 L1,0 L0.5,4.8 C1.3,4.2 2.2,4 3.2,4 C5.2,4 6.5,5.5 6.5,7.5 C6.5,9.6 5.1,11 3.2,11 C1.8,11 0.7,10.4 0,9.3" stroke="#9a3c3c" stroke-width="1.05" fill="none" stroke-linecap="round" stroke-linejoin="round"/>
<path transform="translate(388.65,430.90) scale(0.92,1.000)" d="M0.2,2.8 C0.5,0.9 1.8,0 3.3,0 C5.2,0 6.3,1.3 6.3,3 C6.3,5 4.6,6.5 0,11 L6.5,11" stroke="#9a3c3c" stroke-width="1.05" fill="none" stroke-linecap="round" stroke-linejoin="round"/>
<circle cx="386.6" cy="471.0" r="12" stroke="#934242" stroke-width="1.3" fill="#fff"/>
<path transform="translate(380.75,465.50) scale(0.92,1.000)" d="M6,0 L1,0 L0.5,4.8 C1.3,4.2 2.2,4 3.2,4 C5.2,4 6.5,5.5 6.5,7.5 C6.5,9.6 5.1,11 3.2,11 C1.8,11 0.7,10.4 0,9.3" stroke="#9a3c3c" stroke-width="1.05" fill="none" stroke-linecap="round" stroke-linejoin="round"/>
<path transform="translate(388.65,465.50) scale(0.92,1.000)" d="M3.25,0 C0.6,0 0,2.6 0,5.5 C0,8.4 0.6,11 3.25,11 C5.9,11 6.5,8.4 6.5,5.5 C6.5,2.6 5.9,0 3.25,0 Z" stroke="#9a3c3c" stroke-width="1.05" fill="none" stroke-linecap="round" stroke-linejoin="round"/>
<circle cx="588.9" cy="376.5" r="12" stroke="#934242" stroke-width="1.3" fill="#fff"/>
<path transform="translate(583.05,371.00) scale(0.92,1.000)" d="M3.4,0 L0,7.8 L6.5,7.8 M4.9,3.6 L4.9,11" stroke="#9a3c3c" stroke-width="1.05" fill="none" stroke-linecap="round" stroke-linejoin="round"/>
<path transform="translate(590.95,371.00) scale(0.92,1.000)" d="M3.25,5 C1.5,5 0.5,4 0.5,2.5 C0.5,1 1.6,0 3.25,0 C4.9,0 6,1 6,2.5 C6,4 5,5 3.25,5 C1.2,5 0,6.2 0,8 C0,9.8 1.3,11 3.25,11 C5.2,11 6.5,9.8 6.5,8 C6.5,6.2 5.3,5 3.25,5 Z" stroke="#9a3c3c" stroke-width="1.05" fill="none" stroke-linecap="round" stroke-linejoin="round"/>
<circle cx="386.6" cy="619.3" r="12" stroke="#934242" stroke-width="1.3" fill="#fff"/>
<path transform="translate(380.75,613.80) scale(0.92,1.000)" d="M0.2,2.8 C0.5,0.9 1.8,0 3.3,0 C5.2,0 6.3,1.3 6.3,3 C6.3,5 4.6,6.5 0,11 L6.5,11" stroke="#9a3c3c" stroke-width="1.05" fill="none" stroke-linecap="round" stroke-linejoin="round"/>
<path transform="translate(388.65,613.80) scale(0.92,1.000)" d="M0.2,2.8 C0.5,0.9 1.8,0 3.3,0 C5.2,0 6.3,1.3 6.3,3 C6.3,5 4.6,6.5 0,11 L6.5,11" stroke="#9a3c3c" stroke-width="1.05" fill="none" stroke-linecap="round" stroke-linejoin="round"/>
<circle cx="386.6" cy="689.0" r="12" stroke="#934242" stroke-width="1.3" fill="#fff"/>
<path transform="translate(380.75,683.50) scale(0.92,1.000)" d="M0.2,2.8 C0.5,0.9 1.8,0 3.3,0 C5.2,0 6.3,1.3 6.3,3 C6.3,5 4.6,6.5 0,11 L6.5,11" stroke="#9a3c3c" stroke-width="1.05" fill="none" stroke-linecap="round" stroke-linejoin="round"/>
<path transform="translate(388.65,683.50) scale(0.92,1.000)" d="M1,2.6 L4,0 L4,11" stroke="#9a3c3c" stroke-width="1.05" fill="none" stroke-linecap="round" stroke-linejoin="round"/>
<circle cx="386.6" cy="724.7" r="12" stroke="#934242" stroke-width="1.3" fill="#fff"/>
<path transform="translate(380.75,719.20) scale(0.92,1.000)" d="M0.2,2.8 C0.5,0.9 1.8,0 3.3,0 C5.2,0 6.3,1.3 6.3,3 C6.3,5 4.6,6.5 0,11 L6.5,11" stroke="#9a3c3c" stroke-width="1.05" fill="none" stroke-linecap="round" stroke-linejoin="round"/>
<path transform="translate(388.65,719.20) scale(0.92,1.000)" d="M0.3,0 L6.2,0 L2.8,4.5 C5,4.3 6.5,5.8 6.5,7.8 C6.5,9.8 5,11 3.2,11 C1.7,11 0.6,10.3 0,9.2" stroke="#9a3c3c" stroke-width="1.05" fill="none" stroke-linecap="round" stroke-linejoin="round"/>
<circle cx="730.8" cy="728.5" r="12" stroke="#934242" stroke-width="1.3" fill="#fff"/>
<path transform="translate(724.95,723.00) scale(0.92,1.000)" d="M3.25,5 C1.5,5 0.5,4 0.5,2.5 C0.5,1 1.6,0 3.25,0 C4.9,0 6,1 6,2.5 C6,4 5,5 3.25,5 C1.2,5 0,6.2 0,8 C0,9.8 1.3,11 3.25,11 C5.2,11 6.5,9.8 6.5,8 C6.5,6.2 5.3,5 3.25,5 Z" stroke="#9a3c3c" stroke-width="1.05" fill="none" stroke-linecap="round" stroke-linejoin="round"/>
<path transform="translate(732.85,723.00) scale(0.92,1.000)" d="M0.2,2.8 C0.5,0.9 1.8,0 3.3,0 C5.2,0 6.3,1.3 6.3,3 C6.3,5 4.6,6.5 0,11 L6.5,11" stroke="#9a3c3c" stroke-width="1.05" fill="none" stroke-linecap="round" stroke-linejoin="round"/>
<circle cx="730.8" cy="763.5" r="12" stroke="#934242" stroke-width="1.3" fill="#fff"/>
<path transform="translate(724.95,758.00) scale(0.92,1.000)" d="M3.25,5 C1.5,5 0.5,4 0.5,2.5 C0.5,1 1.6,0 3.25,0 C4.9,0 6,1 6,2.5 C6,4 5,5 3.25,5 C1.2,5 0,6.2 0,8 C0,9.8 1.3,11 3.25,11 C5.2,11 6.5,9.8 6.5,8 C6.5,6.2 5.3,5 3.25,5 Z" stroke="#9a3c3c" stroke-width="1.05" fill="none" stroke-linecap="round" stroke-linejoin="round"/>
<path transform="translate(732.85,758.00) scale(0.92,1.000)" d="M3.25,0 C0.6,0 0,2.6 0,5.5 C0,8.4 0.6,11 3.25,11 C5.9,11 6.5,8.4 6.5,5.5 C6.5,2.6 5.9,0 3.25,0 Z" stroke="#9a3c3c" stroke-width="1.05" fill="none" stroke-linecap="round" stroke-linejoin="round"/>
<circle cx="730.8" cy="799.0" r="12" stroke="#934242" stroke-width="1.3" fill="#fff"/>
<path transform="translate(724.95,793.50) scale(0.92,1.000)" d="M3.25,5 C1.5,5 0.5,4 0.5,2.5 C0.5,1 1.6,0 3.25,0 C4.9,0 6,1 6,2.5 C6,4 5,5 3.25,5 C1.2,5 0,6.2 0,8 C0,9.8 1.3,11 3.25,11 C5.2,11 6.5,9.8 6.5,8 C6.5,6.2 5.3,5 3.25,5 Z" stroke="#9a3c3c" stroke-width="1.05" fill="none" stroke-linecap="round" stroke-linejoin="round"/>
<path transform="translate(732.85,793.50) scale(0.92,1.000)" d="M1,2.6 L4,0 L4,11" stroke="#9a3c3c" stroke-width="1.05" fill="none" stroke-linecap="round" stroke-linejoin="round"/>
<circle cx="730.8" cy="834.7" r="12" stroke="#934242" stroke-width="1.3" fill="#fff"/>
<path transform="translate(724.95,829.20) scale(0.92,1.000)" d="M3.25,5 C1.5,5 0.5,4 0.5,2.5 C0.5,1 1.6,0 3.25,0 C4.9,0 6,1 6,2.5 C6,4 5,5 3.25,5 C1.2,5 0,6.2 0,8 C0,9.8 1.3,11 3.25,11 C5.2,11 6.5,9.8 6.5,8 C6.5,6.2 5.3,5 3.25,5 Z" stroke="#9a3c3c" stroke-width="1.05" fill="none" stroke-linecap="round" stroke-linejoin="round"/>
<path transform="translate(732.85,829.20) scale(0.92,1.000)" d="M0.3,0 L6.2,0 L2.8,4.5 C5,4.3 6.5,5.8 6.5,7.8 C6.5,9.8 5,11 3.2,11 C1.7,11 0.6,10.3 0,9.2" stroke="#9a3c3c" stroke-width="1.05" fill="none" stroke-linecap="round" stroke-linejoin="round"/>
<circle cx="635.4" cy="31.1" r="12" stroke="#934242" stroke-width="1.3" fill="#fff"/>
<path transform="translate(629.55,25.60) scale(0.92,1.000)" d="M3.4,0 L0,7.8 L6.5,7.8 M4.9,3.6 L4.9,11" stroke="#9a3c3c" stroke-width="1.05" fill="none" stroke-linecap="round" stroke-linejoin="round"/>
<path transform="translate(637.45,25.60) scale(0.92,1.000)" d="M6,0 L1,0 L0.5,4.8 C1.3,4.2 2.2,4 3.2,4 C5.2,4 6.5,5.5 6.5,7.5 C6.5,9.6 5.1,11 3.2,11 C1.8,11 0.7,10.4 0,9.3" stroke="#9a3c3c" stroke-width="1.05" fill="none" stroke-linecap="round" stroke-linejoin="round"/>
<circle cx="635.4" cy="66.6" r="12" stroke="#934242" stroke-width="1.3" fill="#fff"/>
<path transform="translate(629.55,61.10) scale(0.92,1.000)" d="M3.4,0 L0,7.8 L6.5,7.8 M4.9,3.6 L4.9,11" stroke="#9a3c3c" stroke-width="1.05" fill="none" stroke-linecap="round" stroke-linejoin="round"/>
<path transform="translate(637.45,61.10) scale(0.92,1.000)" d="M0.3,0 L6.2,0 L2.8,4.5 C5,4.3 6.5,5.8 6.5,7.8 C6.5,9.8 5,11 3.2,11 C1.7,11 0.6,10.3 0,9.2" stroke="#9a3c3c" stroke-width="1.05" fill="none" stroke-linecap="round" stroke-linejoin="round"/>
<circle cx="635.2" cy="387.2" r="12" stroke="#934242" stroke-width="1.3" fill="#fff"/>
<path transform="translate(629.35,381.70) scale(0.92,1.000)" d="M0.3,0 L6.2,0 L2.8,4.5 C5,4.3 6.5,5.8 6.5,7.8 C6.5,9.8 5,11 3.2,11 C1.7,11 0.6,10.3 0,9.2" stroke="#9a3c3c" stroke-width="1.05" fill="none" stroke-linecap="round" stroke-linejoin="round"/>
<path transform="translate(637.25,381.70) scale(0.92,1.000)" d="M3.4,0 L0,7.8 L6.5,7.8 M4.9,3.6 L4.9,11" stroke="#9a3c3c" stroke-width="1.05" fill="none" stroke-linecap="round" stroke-linejoin="round"/>
<circle cx="635.2" cy="600.2" r="12" stroke="#934242" stroke-width="1.3" fill="#fff"/>
<path transform="translate(629.35,594.70) scale(0.92,1.000)" d="M0.3,0 L6.2,0 L2.8,4.5 C5,4.3 6.5,5.8 6.5,7.8 C6.5,9.8 5,11 3.2,11 C1.7,11 0.6,10.3 0,9.2" stroke="#9a3c3c" stroke-width="1.05" fill="none" stroke-linecap="round" stroke-linejoin="round"/>
<path transform="translate(637.25,594.70) scale(0.92,1.000)" d="M0,0 L6.5,0 L2.3,11" stroke="#9a3c3c" stroke-width="1.05" fill="none" stroke-linecap="round" stroke-linejoin="round"/>
<circle cx="952.0" cy="614.4" r="12" stroke="#934242" stroke-width="1.3" fill="#fff"/>
<path transform="translate(946.15,608.90) scale(0.92,1.000)" d="M0,0 L6.5,0 L2.3,11" stroke="#9a3c3c" stroke-width="1.05" fill="none" stroke-linecap="round" stroke-linejoin="round"/>
<path transform="translate(954.05,608.90) scale(0.92,1.000)" d="M6,0 L1,0 L0.5,4.8 C1.3,4.2 2.2,4 3.2,4 C5.2,4 6.5,5.5 6.5,7.5 C6.5,9.6 5.1,11 3.2,11 C1.8,11 0.7,10.4 0,9.3" stroke="#9a3c3c" stroke-width="1.05" fill="none" stroke-linecap="round" stroke-linejoin="round"/>
<circle cx="951.6" cy="670.7" r="12" stroke="#934242" stroke-width="1.3" fill="#fff"/>
<path transform="translate(945.75,665.20) scale(0.92,1.000)" d="M0.6,9.8 C1.2,10.6 2.1,11 3.2,11 C5.3,11 6.5,8.8 6.5,5.5 L6.5,3.5 C6.5,1.4 5.2,0 3.25,0 C1.3,0 0,1.4 0,3.4 C0,5.4 1.3,6.7 3.2,6.7 C4.8,6.7 6,5.8 6.5,4.4" stroke="#9a3c3c" stroke-width="1.05" fill="none" stroke-linecap="round" stroke-linejoin="round"/>
<path transform="translate(953.65,665.20) scale(0.92,1.000)" d="M1,2.6 L4,0 L4,11" stroke="#9a3c3c" stroke-width="1.05" fill="none" stroke-linecap="round" stroke-linejoin="round"/>
<circle cx="951.6" cy="700.8" r="12" stroke="#934242" stroke-width="1.3" fill="#fff"/>
<path transform="translate(945.75,695.30) scale(0.92,1.000)" d="M3.25,0 C0.6,0 0,2.6 0,5.5 C0,8.4 0.6,11 3.25,11 C5.9,11 6.5,8.4 6.5,5.5 C6.5,2.6 5.9,0 3.25,0 Z" stroke="#9a3c3c" stroke-width="1.05" fill="none" stroke-linecap="round" stroke-linejoin="round"/>
<path transform="translate(953.65,695.30) scale(0.92,1.000)" d="M0.3,0 L6.2,0 L2.8,4.5 C5,4.3 6.5,5.8 6.5,7.8 C6.5,9.8 5,11 3.2,11 C1.7,11 0.6,10.3 0,9.2" stroke="#9a3c3c" stroke-width="1.05" fill="none" stroke-linecap="round" stroke-linejoin="round"/>
<circle cx="951.6" cy="736.8" r="12" stroke="#934242" stroke-width="1.3" fill="#fff"/>
<path transform="translate(945.75,731.30) scale(0.92,1.000)" d="M3.25,0 C0.6,0 0,2.6 0,5.5 C0,8.4 0.6,11 3.25,11 C5.9,11 6.5,8.4 6.5,5.5 C6.5,2.6 5.9,0 3.25,0 Z" stroke="#9a3c3c" stroke-width="1.05" fill="none" stroke-linecap="round" stroke-linejoin="round"/>
<path transform="translate(953.65,731.30) scale(0.92,1.000)" d="M3.4,0 L0,7.8 L6.5,7.8 M4.9,3.6 L4.9,11" stroke="#9a3c3c" stroke-width="1.05" fill="none" stroke-linecap="round" stroke-linejoin="round"/>
<circle cx="951.6" cy="770.5" r="12" stroke="#934242" stroke-width="1.3" fill="#fff"/>
<path transform="translate(945.75,765.00) scale(0.92,1.000)" d="M0,0 L6.5,0 L2.3,11" stroke="#9a3c3c" stroke-width="1.05" fill="none" stroke-linecap="round" stroke-linejoin="round"/>
<path transform="translate(953.65,765.00) scale(0.92,1.000)" d="M0,0 L6.5,0 L2.3,11" stroke="#9a3c3c" stroke-width="1.05" fill="none" stroke-linecap="round" stroke-linejoin="round"/>
<circle cx="951.6" cy="803.6" r="12" stroke="#934242" stroke-width="1.3" fill="#fff"/>
<path transform="translate(945.75,798.10) scale(0.92,1.000)" d="M3.25,0 C0.6,0 0,2.6 0,5.5 C0,8.4 0.6,11 3.25,11 C5.9,11 6.5,8.4 6.5,5.5 C6.5,2.6 5.9,0 3.25,0 Z" stroke="#9a3c3c" stroke-width="1.05" fill="none" stroke-linecap="round" stroke-linejoin="round"/>
<path transform="translate(953.65,798.10) scale(0.92,1.000)" d="M1,2.6 L4,0 L4,11" stroke="#9a3c3c" stroke-width="1.05" fill="none" stroke-linecap="round" stroke-linejoin="round"/>
<circle cx="951.6" cy="837.6" r="12" stroke="#934242" stroke-width="1.3" fill="#fff"/>
<path transform="translate(945.75,832.10) scale(0.92,1.000)" d="M0,0 L6.5,0 L2.3,11" stroke="#9a3c3c" stroke-width="1.05" fill="none" stroke-linecap="round" stroke-linejoin="round"/>
<path transform="translate(953.65,832.10) scale(0.92,1.000)" d="M3.25,5 C1.5,5 0.5,4 0.5,2.5 C0.5,1 1.6,0 3.25,0 C4.9,0 6,1 6,2.5 C6,4 5,5 3.25,5 C1.2,5 0,6.2 0,8 C0,9.8 1.3,11 3.25,11 C5.2,11 6.5,9.8 6.5,8 C6.5,6.2 5.3,5 3.25,5 Z" stroke="#9a3c3c" stroke-width="1.05" fill="none" stroke-linecap="round" stroke-linejoin="round"/>
<circle cx="951.6" cy="869.2" r="12" stroke="#934242" stroke-width="1.3" fill="#fff"/>
<path transform="translate(945.75,863.70) scale(0.92,1.000)" d="M3.25,0 C0.6,0 0,2.6 0,5.5 C0,8.4 0.6,11 3.25,11 C5.9,11 6.5,8.4 6.5,5.5 C6.5,2.6 5.9,0 3.25,0 Z" stroke="#9a3c3c" stroke-width="1.05" fill="none" stroke-linecap="round" stroke-linejoin="round"/>
<path transform="translate(953.65,863.70) scale(0.92,1.000)" d="M0.2,2.8 C0.5,0.9 1.8,0 3.3,0 C5.2,0 6.3,1.3 6.3,3 C6.3,5 4.6,6.5 0,11 L6.5,11" stroke="#9a3c3c" stroke-width="1.05" fill="none" stroke-linecap="round" stroke-linejoin="round"/>
</svg>
</body></html>
